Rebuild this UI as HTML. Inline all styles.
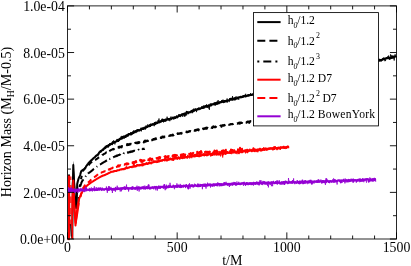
<!DOCTYPE html>
<html lang="en">
<head>
<meta charset="utf-8">
<title>Horizon Mass vs t/M</title>
<style>
html,body{margin:0;padding:0;background:#fff;}
body{width:411px;height:266px;overflow:hidden;}
svg{display:block;will-change:transform;}
svg text{font-family:'Liberation Serif','DejaVu Serif',serif;fill:#000;}
</style>
</head>
<body>
<svg width="411" height="266" viewBox="0 0 411 266">
<rect width="411" height="266" fill="#fff"/>
<defs><clipPath id="plotclip"><rect x="67.0" y="5.9" width="330.0" height="234.7"/></clipPath></defs>
<g clip-path="url(#plotclip)" fill="none" stroke-linejoin="round">
<path d="M69,174.6L69.1,238M72.2,238.5L73.3,165L74.3,188L75.2,202L76.2,208L76.9,196L77.2,184L77.7,181.8L78.2,179.9L78.7,178.3L79.2,177.1L79.7,176.1L80.2,174.8L80.7,172.9L81.2,171.2L81.7,170.7L82.2,170.3L82.7,170L83.2,169.8L83.7,169.6L84.2,169.2L84.7,168.7L85.2,168L85.7,167.3L86.2,166L86.7,165.7L87.2,164.9L87.7,164.2L88.2,163.5L88.7,162.7L89.2,162.4L89.7,161.8L90.2,161.5L90.7,160.6L91.2,160.8L91.7,160.1L92.2,159.5L92.7,159L93.2,158.6L93.7,158L94.2,157.7L94.7,157.4L95.2,156.9L95.7,156L96.2,155.9L96.7,155.2L97.2,155.1L97.7,155.2L98.2,154.3L98.7,153.4L99.2,152.4L99.7,152L100.2,151.3L100.7,151.8L101.2,150.8L101.7,150.7L102.2,150L102.7,149.8L103.2,149.9L103.7,148.7L104.2,148.4L104.7,147.8L105.2,148.1L105.7,147L106.2,146.5L106.7,146.1L107.2,145.7L107.7,146.1L108.2,146.6L108.7,144.9L109.2,145.3L109.7,144.7L110.2,143.9L110.7,143.9L111.2,143.7L111.7,143.3L112.2,144.1L112.7,142.3L113.2,143L113.7,142.7L114.2,142.1L114.7,142.1L115.2,142.2L115.7,141.6L116.2,141.4L116.7,141.3L117.2,139.9L117.7,141.1L118.2,141.1L118.7,140.3L119.2,140.1L119.7,138.8L120.2,139.1L120.7,138.5L121.2,138.4L121.7,138.7L122.2,137.7L122.7,137.8L123.2,136.8L123.7,137.2L124.2,137.1L124.7,136.5L125.2,136.2L125.7,137L126.2,135.5L126.7,135.3L127.2,135.2L127.7,135.7L128.2,134.4L128.7,134.6L129.2,134.2L129.7,134.1L130.2,134.4L130.7,133.4L131.2,134.1L131.7,133.8L132.2,133.1L132.7,133L133.2,132.9L133.7,132.9L134.2,131.7L134.7,132.3L135.2,131.5L135.7,131.1L136.2,131.3L136.7,130.9L137.2,130.4L137.7,129.9L138.2,130L138.7,130.8L139.2,130.8L139.7,130L140.2,130L140.7,129.2L141.2,129.2L141.7,129.1L142.2,128.4L142.7,128.2L143.2,129L143.7,128.1L144.2,127.6L144.7,128L145.2,127.5L145.7,127.9L146.2,127.2L146.7,126.9L147.2,126.9L147.7,126.6L148.2,126.2L148.7,126.1L149.2,126.3L149.7,126.1L150.2,126.1L150.7,124.7L151.2,125L151.7,124.8L152.2,124.9L152.7,124.4L153.2,124.2L153.7,124.5L154.2,124L154.7,123.1L155.2,124.1L155.7,123.7L156.2,122.9L156.7,123.3L157.2,122.4L157.7,123L158.2,122.3L158.7,121.9L159.2,121.8L159.7,121.5L160.2,121.7L160.7,121.6L161.2,121.3L161.7,120.9L162.2,119.5L162.7,120.9L163.2,119.9L163.7,120.7L164.2,120.9L164.7,120.4L165.2,120L165.7,119.9L166.2,119.8L166.7,119.5L167.2,119.3L167.7,119.1L168.2,119.8L168.7,119.1L169.2,119.4L169.7,118.8L170.2,118.8L170.7,118.5L171.2,118.6L171.7,118.6L172.2,118.2L172.7,117.7L173.2,117.5L173.7,118.4L174.2,117.4L174.7,117.3L175.2,117.8L175.7,117.5L176.2,117.1L176.7,116.6L177.2,117.5L177.7,116.5L178.2,116.4L178.7,116L179.2,115.3L179.7,115.2L180.2,115.7L180.7,115.5L181.2,115.1L181.7,114.5L182.2,114.2L182.7,114.5L183.2,113.9L183.7,114.6L184.2,114.5L184.7,115.8L185.2,114.1L185.7,113.3L186.2,113L186.7,111.8L187.2,112.7L187.7,112.7L188.2,113L188.7,112.7L189.2,112.5L189.7,112.2L190.2,112.2L190.7,112.3L191.2,111.1L191.7,111.2L192.2,110.6L192.7,111.6L193.2,111.3L193.7,110.9L194.2,110L194.7,110.3L195.2,110L195.7,110L196.2,109.7L196.7,109.8L197.2,109.3L197.7,109.6L198.2,109.2L198.7,108.8L199.2,108.7L199.7,108.4L200.2,108.8L200.7,108.2L201.2,108.2L201.7,107.8L202.2,107.2L202.7,108L203.2,107.1L203.7,107.6L204.2,107.3L204.7,106.3L205.2,106.5L205.7,106.2L206.2,106.2L206.7,105.9L207.2,106.5L207.7,106L208.2,106.1L208.7,105.6L209.2,105.7L209.7,105.2L210.2,105.3L210.7,105.4L211.2,105L211.7,104.7L212.2,104.3L212.7,104.6L213.2,104.2L213.7,104.2L214.2,103.8L214.7,104.2L215.2,104.8L215.7,103.6L216.2,103.7L216.7,103.5L217.2,102.2L217.7,103.2L218.2,102.7L218.7,103.4L219.2,102.6L219.7,102.2L220.2,102.3L220.7,102.3L221.2,101.9L221.7,102L222.2,101.3L222.7,101.6L223.2,101.9L223.7,102.2L224.2,101.6L224.7,101.3L225.2,101.5L225.7,101.3L226.2,101.5L226.7,101.1L227.2,100.8L227.7,100.5L228.2,100.4L228.7,100.3L229.2,100.1L229.7,99.6L230.2,98.9L230.7,99.4L231.2,98.7L231.7,99.4L232.2,99.3L232.7,98.5L233.2,99.3L233.7,99.3L234.2,98.9L234.7,99.4L235.2,99.3L235.7,98L236.2,98.8L236.7,98.4L237.2,98.3L237.7,98.4L238.2,97.6L238.7,97.5L239.2,97.3L239.7,97.2L240.2,97.4L240.7,96.7L241.2,96.8L241.7,97.3L242.2,96.9L242.7,97L243.2,96L243.7,96.3L244.2,96.2L244.7,96.4L245.2,96L245.7,96.5L246.2,96L246.7,95.9L247.2,95.7L247.7,95.9L248.2,95.3L248.7,95.8L249.2,95.4L249.7,95.2L250.2,95L250.7,95.1L251.2,95.1L251.7,95L252.2,94.6L252.7,94.7L253.2,94.2L253.7,94.6L254.2,93.9L254.7,93L255.2,94.2L255.7,93.6L256.2,92.9L256.7,93.2L257.2,92.8L257.7,93.8L258.2,93.1L258.7,92.1L259.2,92.8L259.7,92.3L260.2,93.1L260.7,91.8L261.2,91.2L261.7,91.9L262.2,91.6L262.7,91.5L263.2,90.7L263.7,91.5L264.2,91.9L264.7,90.3L265.2,91.4L265.7,90.6L266.2,91.6L266.7,90.7L267.2,90.3L267.7,90.7L268.2,90.3L268.7,89.7L269.2,90.1L269.7,89.5L270.2,88.9L270.7,90.2L271.2,89.1L271.7,88.9L272.2,90.7L272.7,88.2L273.2,88.2L273.7,88.4L274.2,88.2L274.7,88.3L275.2,88.6L275.7,87.8L276.2,88.1L276.7,88L277.2,87.2L277.7,87.5L278.2,87.2L278.7,87.6L279.2,87.2L279.7,86.9L280.2,86.2L280.7,86.7L281.2,86.2L281.7,86.6L282.2,86.1L282.7,85.7L283.2,86.3L283.7,86L284.2,85.4L284.7,86.1L285.2,85.2L285.7,85.1L286.2,85.1L286.7,84.6L287.2,84.6L287.7,84.6L288.2,85.1L288.7,84.9L289.2,84.1L289.7,84.7L290.2,83.9L290.7,83.9L291.2,84L291.7,83.6L292.2,84.3L292.7,83.3L293.2,82.6L293.7,83.5L294.2,82.6L294.7,82.5L295.2,80.8L295.7,82.8L296.2,82.6L296.7,82.4L297.2,82.4L297.7,82.5L298.2,81.7L298.7,81.9L299.2,81.1L299.7,81.1L300.2,81.6L300.7,81.2L301.2,80.3L301.7,80.9L302.2,79.9L302.7,80.1L303.2,80.5L303.7,80L304.2,79.4L304.7,79.5L305.2,80.5L305.7,79L306.2,79.6L306.7,79.6L307.2,79.5L307.7,78.6L308.2,78.8L308.7,78.9L309.2,79L309.7,78.3L310.2,77.9L310.7,78.7L311.2,78.6L311.7,78.1L312.2,77.6L312.7,77.9L313.2,77.6L313.7,77.8L314.2,76.8L314.7,77.2L315.2,77L315.7,76.4L316.2,76.8L316.7,76.6L317.2,76.3L317.7,76.5L318.2,75.6L318.7,76.1L319.2,76.1L319.7,75.9L320.2,76.1L320.7,75L321.2,74.8L321.7,75.4L322.2,75.3L322.7,75.8L323.2,75.1L323.7,74.4L324.2,74.9L324.7,74.1L325.2,73.7L325.7,75.2L326.2,74.2L326.7,74.2L327.2,74L327.7,74.4L328.2,73.6L328.7,73.8L329.2,72.8L329.7,72.5L330.2,73.5L330.7,73.4L331.2,72.9L331.7,72.6L332.2,72.5L332.7,72L333.2,72.8L333.7,72.3L334.2,72.1L334.7,71.9L335.2,72L335.7,71.7L336.2,71.6L336.7,70.8L337.2,71.3L337.7,71.8L338.2,70.6L338.7,70.6L339.2,70.9L339.7,70.8L340.2,70.5L340.7,69.5L341.2,70.2L341.7,69.4L342.2,69.4L342.7,69.9L343.2,69.4L343.7,69.7L344.2,70.5L344.7,69.4L345.2,69.3L345.7,68.5L346.2,68.5L346.7,68.2L347.2,68.3L347.7,67.9L348.2,67.9L348.7,68L349.2,67.5L349.7,67.2L350.2,67.1L350.7,67.7L351.2,68.6L351.7,67.7L352.2,67.6L352.7,66.9L353.2,67.2L353.7,66.2L354.2,67.6L354.7,67L355.2,66.3L355.7,64.9L356.2,66.3L356.7,65.3L357.2,65.6L357.7,66.1L358.2,65.7L358.7,65.3L359.2,65.8L359.7,64.8L360.2,65.2L360.7,64.8L361.2,64.5L361.7,64.9L362.2,63.5L362.7,65.3L363.2,64.1L363.7,65L364.2,63.7L364.7,64.2L365.2,63.4L365.7,63.2L366.2,63.7L366.7,63.7L367.2,62.8L367.7,63.7L368.2,62.8L368.7,63L369.2,62.9L369.7,63L370.2,61.9L370.7,63.1L371.2,62.6L371.7,62.1L372.2,61.7L372.7,61.3L373.2,61.3L373.7,61.9L374.2,61.5L374.7,61L375.2,61.1L375.7,61.8L376.2,61L376.7,60.7L377.2,61.4L377.7,60.9L378.2,60.6L378.7,60.2L379.2,59.7L379.7,59.8L380.2,59.9L380.7,59.9L381.2,60L381.7,60L382.2,59.7L382.7,59.2L383.2,59L383.7,58.4L384.2,58.9L384.7,58.6L385.2,58.6L385.7,58.6L386.2,58.1L386.7,58.1L387.2,58.3L387.7,58.3L388.2,57.9L388.7,58.2L389.2,57.8L389.7,58.9L390.2,57.7L390.7,58.3L391.2,57.1L391.7,57.8L392.2,57.7L392.7,57.6L393.2,56.6L393.7,57.6L394.2,56.7L394.7,56.5L395.2,56.4L395.7,56.6L396.2,56.2" stroke="#000" stroke-width="2"/>
<path d="M84,169.3L84.3,169L84.6,168.7L84.9,168.3L85.2,167.9L85.5,167.4L85.8,166.9L86.1,166.6L86.4,165.9L86.7,165.5L87,165.2L87.3,164.8L87.6,164.4L87.9,163.9L88.2,163.7L88.5,163.4L88.8,162.7L89.1,162.5L89.4,161.8L89.7,161.4L90,161.2L90.3,161.3L90.6,160.3L90.9,160.8L91.2,160.5L91.5,160.1L91.8,159.1L92.1,159.5L92.4,159.4L92.7,159.2L93,158.4L93.3,158.5L93.6,158L93.9,157.8L94.2,157.5L94.5,157.3L94.8,157.3L95.1,157.5L95.4,156.5L95.7,156.4L96,156.2L96.3,155.9L96.6,155L96.9,155.4L97.2,155.8L97.5,153.8L97.8,154.9L98.1,154.2L98.4,153.4L98.7,154.8L99,153.7L99.3,152.2L99.6,152.7L99.9,152.7L100.2,152L100.5,152.2L100.8,151.4L101.1,151.6L101.4,151.9L101.7,150.1L102,150.5L102.3,149.8L102.6,150L102.9,148.7L103.2,148.9L103.5,149L103.8,149.6L104.1,149.6L104.4,147.2L104.7,147.5L105,148.5L105.3,145.9L105.6,147L105.9,146.5L106.2,148.2L106.5,147.4L106.8,146.2L107.1,146L107.4,145.9L107.7,147.5L108,145.3L108.3,145.2L108.6,145.7L108.9,145L109.2,144.7L109.5,143.6L109.8,143.4L110.1,143.9L110.4,145.5L110.7,144.8L111,143.9L111.3,144.5L111.6,143.2L111.9,144.6L112.2,143.3L112.5,143.8L112.8,141.6L113.1,143.3L113.4,140.9L113.7,140.3L114,142.1L114.3,141.3L114.6,142.3L114.9,144.4L115.2,140.9L115.5,141L115.8,141.7L116.1,141.9L116.4,141L116.7,140.8L117,140L117.3,141.3L117.6,139.4L117.9,140.3L118.2,140.2L118.5,138.9L118.8,140.2L119.1,138.8L119.4,140.6L119.7,139.6L120,139.3L120.3,138.4L120.6,138.8L120.9,136.6L121.2,137.3L121.5,138.8L121.8,135.9L122.1,139L122.4,136L122.7,138.6L123,136.7L123.3,138.4L123.6,137.5L123.9,135.5L124.2,138.4L124.5,138.5L124.8,136.7L125.1,136.3L125.4,136.2L125.7,135.2L126,137.3L126.3,135.4L126.6,135.8L126.9,134.8L127.2,134.8L127.5,136.2L127.8,136.6L128.1,134.9L128.4,136L128.7,133.2L129,133.8L129.3,134.1L129.6,133.7L129.9,134.2L130.2,133.6L130.5,133.5L130.8,132.2L131.1,132.7L131.4,135.2L131.7,132.5L132,132L132.3,133.3L132.6,134.4L132.9,131.1L133.2,132.3L133.5,131.7L133.8,130.3L134.1,132.9L134.4,132L134.7,131.9L135,130.9L135.3,132.1L135.6,130.9L135.9,133.1L136.2,130L136.5,129.7L136.8,132.4L137.1,130.3L137.4,131.7L137.7,130.5L138,130L138.3,129.3L138.6,130.9L138.9,129.8L139.2,129.8L139.5,129.9L139.8,129.6L140.1,130.4L140.4,129.9L140.7,128.8L141,127.7L141.3,131.4L141.6,130.1L141.9,128.8L142.2,129.4L142.5,129.5L142.8,129.5L143.1,129.5L143.4,127.8L143.7,129.9L144,128.8L144.3,128.9L144.6,128.4L144.9,127.6L145.2,129.7L145.5,129.2L145.8,126.1L146.1,125.4L146.4,128.1L146.7,125.9L147,126.9L147.3,127.7L147.6,124.9L147.9,124.3L148.2,126.7L148.5,126.4L148.8,125.9L149.1,126.1L149.4,125L149.7,124.2L150,125.5L150.3,124.5L150.6,123.7L150.9,125.9L151.2,125.1L151.5,125.5L151.8,123.9L152.1,124.1L152.4,123.6L152.7,123.6L153,124.7L153.3,123.5L153.6,124.6L153.9,124.4L154.2,126.2L154.5,122.3L154.8,124.7L155.1,123.5L155.4,123.4L155.7,121.7L156,122.7L156.3,123.9L156.6,122.9L156.9,122.9L157.2,122.1L157.5,123.9L157.8,122.5L158.1,120L158.4,121.5L158.7,120L159,118.5L159.3,121.4L159.6,123.3L159.9,121.8L160.2,120.4L160.5,120.5L160.8,122.7L161.1,121.5L161.4,121.3L161.7,121.1L162,121.1L162.3,121.9L162.6,121.5L162.9,121L163.2,119.6L163.5,122.4L163.8,119.8L164.1,121.6L164.4,119L164.7,120.1L165,120.2L165.3,118.6L165.6,121.9L165.9,121.5L166.2,119.3L166.5,120.6L166.8,120.1L167.1,116.7L167.4,119.8L167.7,119.4L168,119.4L168.3,118.1L168.6,119.3L168.9,118.9L169.2,120.3L169.5,119.3L169.8,121.2L170.1,120.4L170.4,118.1L170.7,118.2L171,116.5L171.3,120.1L171.6,119.4L171.9,119.2L172.2,118.9L172.5,118.2L172.8,118.2L173.1,117.6L173.4,117.6L173.7,117.8L174,119.3L174.3,118.1L174.6,117.4L174.9,116.7L175.2,116.5L175.5,118.9L175.8,117.6L176.1,117L176.4,116.4L176.7,115.5L177,116.6L177.3,117.5L177.6,116L177.9,116.1L178.2,116L178.5,116.2L178.8,114.3L179.1,115.6L179.4,114.9L179.7,116.7L180,114.7L180.3,116.1L180.6,117.1L180.9,114.9L181.2,114.5L181.5,114.6L181.8,114.9L182.1,113.8L182.4,115.2L182.7,116.8L183,114.2L183.3,114.2L183.6,113.2L183.9,114.5L184.2,112.7L184.5,112.8L184.8,115.3L185.1,112.8L185.4,114.8L185.7,115.2L186,113.7L186.3,113.9L186.6,115.4L186.9,112.9L187.2,112.3L187.5,111.4L187.8,112.8L188.1,114.3L188.4,113.6L188.7,111.4L189,111.4L189.3,111.7L189.6,112.4L189.9,111.8L190.2,112.1L190.5,112.1L190.8,111.3L191.1,111.5L191.4,111.7L191.7,111.3L192,111.8L192.3,113.2L192.6,111.7L192.9,111L193.2,109L193.5,111.1L193.8,108.5L194.1,108.9L194.4,111.3L194.7,111.1L195,110L195.3,108.2L195.6,109.6L195.9,109.1L196.2,110.5L196.5,112.1L196.8,109.8L197.1,108.6L197.4,108.1L197.7,109.2L198,109L198.3,107.8L198.6,109.1L198.9,107.6L199.2,110L199.5,109.8L199.8,109.8L200.1,108L200.4,108.9L200.7,108.1L201,107.8L201.3,107.7L201.6,106.6L201.9,106.3L202.2,108.7L202.5,107.5L202.8,107.9L203.1,108.6L203.4,105.5L203.7,106.5L204,107.4L204.3,108.2L204.6,106.6L204.9,108.1L205.2,107.1L205.5,105.4L205.8,105.6L206.1,107.5L206.4,105.5L206.7,104.3L207,107.8L207.3,106.9L207.6,107.6L207.9,105.6L208.2,105.6L208.5,104.6L208.8,108.5L209.1,105.5L209.4,109.8L209.7,104.8L210,105.6L210.3,103.4L210.6,104.8L210.9,106.2L211.2,103.6L211.5,106.1L211.8,105.2L212.1,103.6L212.4,104.1L212.7,104.1L213,104.4L213.3,103.8L213.6,103.4L213.9,103.9L214.2,102.1L214.5,102.6L214.8,103.9L215.1,104.8L215.4,102.1L215.7,103.7L216,102.9L216.3,102.4L216.6,104.4L216.9,102.8L217.2,104.9L217.5,102.3L217.8,103.5L218.1,100.1L218.4,102.1L218.7,103.5L219,102.6L219.3,103.3L219.6,102.5L219.9,101.3L220.2,102.3L220.5,102.4L220.8,103.3L221.1,101.2L221.4,101.9L221.7,100.1L222,102.6L222.3,100.6L222.6,99.8L222.9,101.4L223.2,102.8L223.5,99.8L223.8,100.2L224.1,102.8L224.4,100L224.7,101.6L225,100.2L225.3,100.2L225.6,101.6L225.9,100L226.2,101.3L226.5,99.6L226.8,99.3L227.1,98.5L227.4,102.5L227.7,99.6L228,100.6L228.3,100.2L228.6,100.4L228.9,100.2L229.2,102.1L229.5,98.8L229.8,98.2L230.1,98.7L230.4,98.3L230.7,100.5L231,100.5L231.3,98.5L231.6,97.9L231.9,99L232.2,100.8L232.5,96.1L232.8,99.7L233.1,98.6L233.4,100.2L233.7,97.8L234,98.6L234.3,97.1L234.6,97.7L234.9,100.2L235.2,99.5L235.5,98.1L235.8,97.5L236.1,96.3L236.4,97.9L236.7,98.2L237,98.1L237.3,98L237.6,96.8L237.9,97.9L238.2,97.8L238.5,99.2L238.8,99.8L239.1,97.5L239.4,96.8L239.7,97.5L240,96.8L240.3,96.6L240.6,97.3L240.9,98L241.2,97.9L241.5,97L241.8,97.2L242.1,96.8L242.4,96.1L242.7,95.8L243,97.7L243.3,96.1L243.6,96.9L243.9,96.5L244.2,95L244.5,96.5L244.8,94.8L245.1,95.6L245.4,95.9L245.7,93.8L246,96.1L246.3,96.1L246.6,95.7L246.9,95.3L247.2,95.9L247.5,94.6L247.8,95.3L248.1,94.9L248.4,95.5L248.7,94L249,95.5L249.3,95.4L249.6,95L249.9,94.6L250.2,95.6L250.5,93.1L250.8,95.3L251.1,95L251.4,95L251.7,95L252,93.8L252.3,94.1L252.6,95.1L252.9,94.8L253.2,94.4L253.5,92.5L253.8,94.6L254.1,95.2L254.4,95L254.7,93.7L255,92L255.3,94.7L255.6,93.4L255.9,90.7L256.2,93.8L256.5,91.7L256.8,91.9L257.1,92.5L257.4,94.5L257.7,92.6L258,93.2L258.3,94.8L258.6,94.5L258.9,92.6L259.2,92.3L259.5,91.1L259.8,91.7L260.1,92.8L260.4,92.7L260.7,92.3L261,93.2L261.3,91.2L261.6,91.9L261.9,92.7L262.2,92.4L262.5,92.9L262.8,92.1L263.1,91.2L263.4,91.9L263.7,90.3L264,89.5L264.3,91.8L264.6,90L264.9,91.4L265.2,89.1L265.5,91.9L265.8,90.1L266.1,89.8L266.4,88.1L266.7,90.2L267,89.8L267.3,90.8L267.6,89.6L267.9,90.2L268.2,91L268.5,87L268.8,89.8L269.1,90.5L269.4,90.5L269.7,91.6L270,90.9L270.3,91.3L270.6,89.8L270.9,90.2L271.2,88.7L271.5,89.2L271.8,90.1L272.1,91.2L272.4,89.9L272.7,88.8L273,89L273.3,90.2L273.6,88.6L273.9,90L274.2,87.4L274.5,88.2L274.8,88.1L275.1,89.1L275.4,89.3L275.7,86.4L276,86.9L276.3,88.2L276.6,87L276.9,86L277.2,88.7L277.5,88.1L277.8,88L278.1,86.8L278.4,88.4L278.7,86.9L279,88.3L279.3,86L279.6,86L279.9,87.1L280.2,86L280.5,87.4L280.8,86.9L281.1,85.5L281.4,86.5L281.7,85.9L282,87.2L282.3,85.5L282.6,85.6L282.9,87.3L283.2,88.4L283.5,88L283.8,85.8L284.1,85.9L284.4,87.2L284.7,85.3L285,84.3L285.3,85.4L285.6,85.7L285.9,84.2L286.2,83.2L286.5,83.4L286.8,84.7L287.1,84L287.4,84.6L287.7,84.9L288,85.2L288.3,84.1L288.6,84.9L288.9,83.3L289.2,83.8L289.5,83L289.8,85.3L290.1,83.9L290.4,83.1L290.7,83.4L291,83.5L291.3,84.4L291.6,81.8L291.9,82L292.2,82.9L292.5,86.6L292.8,84.2L293.1,83.9L293.4,83.8L293.7,85.2L294,82.9L294.3,82.4L294.6,85.2L294.9,83.2L295.2,83.3L295.5,81.9L295.8,84.5L296.1,84.2L296.4,82.8L296.7,82.9L297,79.8L297.3,82.6L297.6,81.6L297.9,82.3L298.2,82.4L298.5,81.2L298.8,79.7L299.1,81.9L299.4,80.5L299.7,80.9L300,80.5L300.3,80.7L300.6,78.5L300.9,82.3L301.2,81.1L301.5,81.3L301.8,82.9L302.1,80.6L302.4,78.6L302.7,79.5L303,79.1L303.3,80L303.6,80.3L303.9,77.9L304.2,80.4L304.5,78.3L304.8,80.2L305.1,79.7L305.4,79.4L305.7,79.6L306,79L306.3,78.8L306.6,77.5L306.9,79.3L307.2,81.3L307.5,81.3L307.8,80.5L308.1,79.8L308.4,78.2L308.7,80.4L309,78.7L309.3,78.6L309.6,78.2L309.9,78.6L310.2,77.9L310.5,78.2L310.8,77L311.1,77.7L311.4,80.6L311.7,77.9L312,77.6L312.3,78.4L312.6,78.5L312.9,76.4L313.2,77.4L313.5,78.5L313.8,77.7L314.1,77.5L314.4,79L314.7,76.4L315,77.2L315.3,76.4L315.6,78.6L315.9,72.8L316.2,76L316.5,76.1L316.8,77.3L317.1,77.2L317.4,78L317.7,74.6L318,77.1L318.3,75.9L318.6,75.4L318.9,76.6L319.2,74.9L319.5,73.6L319.8,75.4L320.1,74L320.4,74.9L320.7,75.9L321,75.8L321.3,77.1L321.6,75.1L321.9,73.5L322.2,74.3L322.5,74L322.8,73.6L323.1,75.4L323.4,75L323.7,72.5L324,75.4L324.3,74.4L324.6,74.9L324.9,74.5L325.2,75L325.5,74.3L325.8,75.5L326.1,74.7L326.4,74.4L326.7,74.3L327,72.2L327.3,73.6L327.6,73.4L327.9,73.8L328.2,72L328.5,75.2L328.8,73.4L329.1,71.4L329.4,71.3L329.7,72.8L330,72.9L330.3,72.1L330.6,72.9L330.9,72.1L331.2,73.3L331.5,71.8L331.8,72.5L332.1,73.5L332.4,75.2L332.7,71.2L333,71.7L333.3,71.2L333.6,72.9L333.9,70.7L334.2,71.3L334.5,71.8L334.8,70.6L335.1,70.6L335.4,71L335.7,69.2L336,69.8L336.3,70.9L336.6,71.4L336.9,71L337.2,69.1L337.5,70.5L337.8,71.8L338.1,71.5L338.4,70.7L338.7,69.7L339,71.3L339.3,69.9L339.6,69.2L339.9,69.5L340.2,71.9L340.5,70.5L340.8,72.8L341.1,69.5L341.4,71L341.7,69.2L342,69.6L342.3,72.5L342.6,70.5L342.9,69.9L343.2,69.4L343.5,69.8L343.8,70.7L344.1,68.7L344.4,67.3L344.7,68.8L345,69.1L345.3,69.1L345.6,70.3L345.9,69.2L346.2,69.6L346.5,67.4L346.8,69.5L347.1,70.8L347.4,69.3L347.7,68.6L348,68.4L348.3,70.1L348.6,67.1L348.9,67.9L349.2,68.5L349.5,68.7L349.8,67.3L350.1,68.1L350.4,67.3L350.7,67.7L351,67.3L351.3,66.1L351.6,67.3L351.9,68.2L352.2,66.1L352.5,66.8L352.8,67.7L353.1,65.8L353.4,67.1L353.7,65.6L354,68L354.3,69.2L354.6,68.8L354.9,66.2L355.2,67.2L355.5,63.1L355.8,66.4L356.1,67.9L356.4,64.6L356.7,67.2L357,65.9L357.3,67.4L357.6,66L357.9,65L358.2,65.9L358.5,66.4L358.8,65.5L359.1,65.9L359.4,64.8L359.7,62.9L360,66.2L360.3,65.9L360.6,65.2L360.9,65.1L361.2,66L361.5,64.3L361.8,63.9L362.1,64.4L362.4,64.1L362.7,63L363,65.7L363.3,63.6L363.6,63.1L363.9,65.6L364.2,64L364.5,62.6L364.8,63.6L365.1,66.2L365.4,65.1L365.7,63.3L366,64.1L366.3,64.4L366.6,62.8L366.9,63.8L367.2,63.3L367.5,62.7L367.8,62.7L368.1,63.2L368.4,63.1L368.7,62.4L369,62.4L369.3,64L369.6,66L369.9,63.6L370.2,63.9L370.5,63.2L370.8,64.9L371.1,61.5L371.4,63.2L371.7,61.9L372,64.2L372.3,63.9L372.6,59.8L372.9,60.9L373.2,62L373.5,62.6L373.8,62.5L374.1,61.5L374.4,62L374.7,62.2L375,61.4L375.3,62.5L375.6,58.8L375.9,61.9L376.2,60L376.5,62.1L376.8,60.7L377.1,59.9L377.4,60.9L377.7,59.7L378,59.6L378.3,58.8L378.6,60.5L378.9,61L379.2,61.5L379.5,60.1L379.8,61.4L380.1,60.6L380.4,59.9L380.7,60.6L381,61.8L381.3,61L381.6,59.5L381.9,59.5L382.2,59.7L382.5,58.5L382.8,60.6L383.1,58.9L383.4,59.8L383.7,58.3L384,59.6L384.3,59.5L384.6,58.6L384.9,61.2L385.2,59.3L385.5,60.8L385.8,59.8L386.1,57.9L386.4,58.2L386.7,59L387,58.5L387.3,58.4L387.6,58L387.9,56.2L388.2,57.9L388.5,55.6L388.8,58.4L389.1,57.1L389.4,57.1L389.7,57.5L390,58L390.3,56.1L390.6,54.4L390.9,56.3L391.2,55.2L391.5,56.3L391.8,59L392.1,56L392.4,57.8L392.7,55.5L393,57.3L393.3,56.6L393.6,56.8L393.9,57.4L394.2,60.5L394.5,56.8L394.8,56.7L395.1,54.3L395.4,57L395.7,56.1L396,57.2L396.3,56.2" stroke="#000" stroke-width="0.8"/>
<path d="M73.35,160.4L71.3,190L75.6,190Z" fill="#000" stroke="none"/>
<path d="M76.9,204L77.9,208L78.8,197M79.5,187L79.8,185.6L80,184.3M81,179.2L81.2,178.1L81.5,176.9L81.8,175.8M82.8,171.5L83,170.9L83.2,170.5L83.5,170.1L83.8,169.7L84,169.4L84.2,169.1L84.5,168.8L84.8,168.5L85,168.3L85.2,168.1L85.5,167.9L85.8,167.7M88.5,165.3L88.8,165L89,164.6L89.2,164.3L89.5,164L89.8,163.7L90,163.4L90.2,163.1L90.5,162.9L90.8,162.7L91,162.5L91.2,162.4L91.5,162.2L91.8,162L92,161.8M95,160L95.2,159.9L95.5,159.7L95.8,159.6L96,159.4L96.2,159.3L96.5,159.1L96.8,158.9L97,158.8L97.2,158.6L97.5,158.5L97.8,158.3L98,158L98.2,157.9L98.5,157.7L98.8,157.5L99,157.4L99.2,157.3M102.2,155.2L102.5,154.7L102.8,154.7L103,154.9L103.2,154.5L103.5,154.4L103.8,154.1L104,153.8L104.2,153.8L104.5,153.7L104.8,153.4L105,153.4L105.2,153.4L105.5,153.3L105.8,152.7L106,152.6L106.2,152.4L106.5,152.7M109.8,149.7L110,150.7L110.2,150.5L110.5,150.3L110.8,150.1L111,150.1L111.2,150L111.5,150L111.8,149.6L112,149.6L112.2,149.6L112.5,149.3L112.8,149.1L113,149.2L113.2,149.5L113.5,149.1L113.8,149.3L114,148.9L114.2,148.7L114.5,148.4M117.8,147.4L118,147.4L118.2,147.2L118.5,147.6L118.8,146.7L119,147.1L119.2,147.8L119.5,146.9L119.8,146.6L120,146.9L120.2,147.2L120.5,146.7L120.8,146.9L121,146.6L121.2,146.4L121.5,147.4L121.8,146.2L122,146.1L122.2,146.1L122.5,146.3L122.8,146.2M126.2,144.8L126.5,144.9L126.8,144.7L127,145.2L127.2,144.1L127.5,144.7L127.8,144.2L128,144.5L128.2,144.9L128.5,144.3L128.8,144.5L129,144.2L129.2,144.9L129.5,144.6L129.8,144.6L130,143.8L130.2,143.8L130.5,144.4L130.8,143.9L131,143.8L131.2,144M134.8,143.4L135,143L135.2,143.1L135.5,142.9L135.8,142.5L136,142.8L136.2,143.1L136.5,143.3L136.8,142.6L137,142.5L137.2,143.2L137.5,142.4L137.8,143.3L138,142.6L138.2,142.3L138.5,142.9L138.8,143L139,142.1L139.2,142.9L139.5,142.3L139.8,142.8M143.2,141.8L143.5,141.7L143.8,142.5L144,141.9L144.2,141.4L144.5,141.7L144.8,141.1L145,140.5L145.2,140.8L145.5,141.7L145.8,141.4L146,140.8L146.2,141.1L146.5,141.3L146.8,141.1L147,141L147.2,140.6L147.5,140.6L147.8,140.8L148,141L148.2,140.4M151.8,140.2L152,140.4L152.2,139.7L152.5,139.6L152.8,139.8L153,139.5L153.2,139.4L153.5,139L153.8,139.6L154,138.9L154.2,139.3L154.5,138.7L154.8,139.4L155,138.7L155.2,139.2L155.5,138.4L155.8,138.7L156,139.1L156.2,138.5L156.5,138.7L156.8,138.5M160.2,137.2L160.5,137.2L160.8,137.9L161,137.5L161.2,137.7L161.5,137.9L161.8,137.3L162,137.1L162.2,136.5L162.5,137.4L162.8,137L163,137.3L163.2,137.2L163.5,136.6L163.8,137.5L164,137.3L164.2,137.1L164.5,136.5L164.8,136.7L165,136.6L165.2,136.5M168.8,135.7L169,136L169.2,135.6L169.5,135.5L169.8,135.4L170,135.8L170.2,135.4L170.5,135L170.8,135.6L171,135.2L171.2,135.4L171.5,135.4L171.8,135.6L172,135.5L172.2,134.9L172.5,135L172.8,134.6L173,135.5L173.2,135L173.5,135.3L173.8,134.7M177.2,133.9L177.5,133.4L177.8,134L178,134L178.2,133.8L178.5,133.4L178.8,133.5L179,133.3L179.2,133.7L179.5,133.8L179.8,133.8L180,133.2L180.2,133.4L180.5,133.5L180.8,133.1L181,133.2L181.2,133.8L181.5,133.2L181.8,133.3L182,132.9L182.2,133M185.8,131.6L186,131.8L186.2,131.6L186.5,131.6L186.8,132.3L187,131.9L187.2,131.9L187.5,132.2L187.8,132.1L188,131.6L188.2,132L188.5,131.7L188.8,131.5L189,131.6L189.2,131L189.5,131.2L189.8,131.3L190,131.5L190.2,131.1L190.5,131.1L190.8,131.4M194.2,130.4L194.5,130.7L194.8,130.2L195,130.1L195.2,130L195.5,130.1L195.8,130.7L196,129.7L196.2,130.5L196.5,129.7L196.8,129.9L197,130.1L197.2,130L197.5,129.9L197.8,129.2L198,129.8L198.2,129.3L198.5,130.4L198.8,129.5L199,129.6L199.2,129.1M202.8,129.1L203,128.5L203.2,129L203.5,128.5L203.8,129.1L204,129L204.2,128.4L204.5,128.4L204.8,128.2L205,128.5L205.2,128.7L205.5,127.9L205.8,128.6L206,127.9L206.2,128L206.5,127.6L206.8,128.8L207,128.1L207.2,128.1L207.5,127.8L207.8,128.3M211.2,127.4L211.5,127.8L211.8,127.5L212,127.2L212.2,128.1L212.5,127.4L212.8,127.4L213,126.8L213.2,126.4L213.5,126.7L213.8,127.2L214,126.6L214.2,126.7L214.5,126.9L214.8,127.2L215,126.8L215.2,126.7L215.5,126.5L215.8,127.1L216,126.9L216.2,126.5L216.5,126.1M220,126.3L220.2,125.9L220.5,125.6L220.8,125.5L221,126L221.2,126.1L221.5,126.8L221.8,125.7L222,126L222.2,125.3L222.5,125.6L222.8,125.3L223,125.5L223.2,125.7L223.5,125.7L223.8,125.1L224,125.7L224.2,125.2L224.5,124.9L224.8,125.2L225,124.7M228.5,124.2L228.8,124.5L229,124.7L229.2,124.6L229.5,124.8L229.8,124.8L230,124.6L230.2,124.4L230.5,124L230.8,124L231,124.1L231.2,124.3L231.5,124.3L231.8,124.1L232,124.1L232.2,124.3L232.5,124.1L232.8,124.1L233,124.1L233.2,123.8L233.5,123.6M237,123.5L237.2,123.4L237.5,123.6L237.8,123.2L238,123.1L238.2,123.2L238.5,123.4L238.8,123.2L239,123.3L239.2,122.4L239.5,123.4L239.8,123.7L240,123.3L240.2,122.8L240.5,122.6L240.8,122.9L241,122.5L241.2,123L241.5,122.5L241.8,123L242,123L242.2,122M245.8,122.2L246,122.2L246.2,122.2L246.5,122.7L246.8,122.2L247,122L247.2,122.3L247.5,121.4L247.8,121.4L248,121.6L248.2,121.5L248.5,121.9L248.8,121.5L249,122.1L249.2,122.9L249.5,121.8L249.8,121.4L250,121.6L250.2,121.7L250.5,121.1L250.8,121.5M254.2,120.4L254.5,121.3L254.8,120.7L255,121.1L255.2,120.8L255.5,120.9L255.8,121.2L256,120.7L256.2,121L256.5,120.1L256.8,120.7L257,120.4L257.2,120.4L257.5,120.4L257.8,120.4L258,120.8" stroke="#000" stroke-width="2"/>
<path d="M80.2,186.5L80.5,185.7L80.7,184.8L81,184.1L81.2,183.3L81.5,182.7L81.7,182.1L82,181.6L82.2,181.1L82.5,180.7L82.7,180.4L83,180L83.2,179.7L83.5,179.4M85.5,176.7L85.7,176.3L86,175.9M88,173.6L88.2,173.4L88.5,173.2L88.7,173L89,172.8L89.2,172.6L89.5,172.4L89.7,172.3L90,172.1L90.2,171.9L90.5,171.8L90.7,171.6L91,171.4L91.2,171.2L91.5,171L91.7,170.8L92,170.6L92.2,170.4L92.5,170.2L92.7,169.9L93,169.7L93.2,169.5L93.5,169.3L93.7,169L94,168.8M96.5,166.8L96.7,166.6L97,166.5L97.2,166.3M100,164.6L100.2,164.5L100.5,164.3L100.7,164.2L101,164L101.2,163.9L101.5,163.6L101.7,163.6L102,163.2L102.2,163.1L102.5,163.1L102.7,162.9L103,162.7L103.2,162.6L103.5,162.4L103.7,162.3L104,162L104.2,162L104.5,161.8L104.7,161.7L105,161.6L105.2,161.3L105.5,161.4L105.7,161.1L106,160.8L106.2,160.6L106.5,160.8L106.7,160.5M109.5,159L109.7,159.1L110,158.8L110.2,158.8M113.2,157.2L113.5,157.2L113.7,156.9L114,156.9L114.2,156.9L114.5,156.6L114.7,156.5L115,156.4L115.2,156.5L115.5,156.2L115.7,156.3L116,156.3L116.2,156.1L116.5,155.6L116.7,155.8L117,155.9L117.2,155.6L117.5,155.7L117.7,155.5L118,155.4L118.2,155.2L118.5,155L118.7,155L119,155L119.2,155L119.5,154.9L119.7,154.6L120,154.6L120.2,154.6L120.5,154.1M123.5,153.9L123.7,153.4L124,153.3L124.2,153.3L124.5,153.2M127.5,152.6L127.7,152.3L128,152.8L128.2,152.4L128.4,152.2L128.7,152.2L128.9,152.3L129.2,152.3L129.4,152.1L129.7,152.2L129.9,152.2L130.2,151.6L130.4,151.7L130.7,151.5L130.9,151.7L131.2,151.9L131.4,151.7L131.7,151.3L131.9,151.4L132.2,151.6L132.4,151.2L132.7,151.3L132.9,151.3L133.2,150.8L133.4,151.3L133.7,151.1L133.9,151.1L134.2,150.7L134.4,150.7L134.7,150.7L134.9,150.8M138.2,150.1L138.4,149.8L138.7,149.7L138.9,149.8L139.2,150M142.2,148.9L142.4,149.1L142.7,148.7L142.9,149L143.2,148.9L143.4,148.8L143.7,149L143.9,148.7L144.2,148.9L144.4,148.6" stroke="#000" stroke-width="2"/>
<path d="M72.7,190L73.3,180.5L74.3,205L75.5,225.5L76.4,216L77.6,206L78.9,199.6L79.4,198.2L79.9,196.9L80.4,195.7L80.9,194.6L81.4,193.6L81.9,192.6L82.4,191.7L82.9,190.8L83.4,190L83.9,189.3L84.4,188.5L84.9,187.9L85.4,187.3L85.9,186.7L86.4,186.2L86.9,185.8L87.4,185.3L87.9,184.9L88.4,184.5L88.9,184.2L89.4,183.8L89.9,183.4L90.4,183L90.9,182.7L91.4,182.4L91.9,182L92.4,181.7L92.9,181.4L93.4,181.1L93.9,180.7L94.4,180.4L94.9,180.1L95.4,179.8L95.9,179.5L96.4,179.2L96.9,178.8L97.4,178.6L97.9,178.3L98.4,177.9L98.9,177.7L99.4,177.4L99.9,177.1L100.4,176.8L100.9,176.6L101.4,176.3L101.9,176.2L102.4,175.9L102.9,175.6L103.4,175.5L103.9,175.4L104.4,175.1L104.9,174.9L105.4,174.8L105.9,174.4L106.4,174.3L106.9,174.1L107.4,173.8L107.9,173.5L108.4,173.3L108.9,173L109.4,172.8L109.9,172.6L110.4,172.4L110.9,172L111.4,171.8L111.9,171.8L112.4,171.8L112.9,171.7L113.4,171.2L113.9,171.4L114.4,171.2L114.9,171L115.4,171L115.9,170.9L116.4,171L116.9,170.4L117.4,170.5L117.9,170.3L118.4,170.2L118.9,170.3L119.4,170.1L119.9,169.6L120.4,169.6L120.9,169.6L121.4,169.3L121.9,169.5L122.4,169.2L122.9,169.1L123.4,169L123.9,169.2L124.4,168.7L124.9,168.4L125.4,168.8L125.9,168.1L126.4,167.1L126.9,167.6L127.4,168.1L127.9,167.8L128.4,167.7L128.9,167.5L129.4,167.3L129.9,167L130.4,166.9L130.9,167.1L131.4,166.9L131.9,167.2L132.4,166.4L132.9,166.4L133.4,166.2L133.9,166.8L134.4,165.9L134.9,166.4L135.4,166.5L135.9,165.9L136.4,166.1L136.9,165.1L137.4,165.5L137.9,165L138.4,165.5L138.9,165.3L139.4,165L139.9,165.5L140.4,165.1L140.9,165L141.4,164.6L141.9,164.2L142.4,164.5L142.9,165.3L143.4,164.1L143.9,164.4L144.4,164L144.9,164.4L145.4,164.1L145.9,163.8L146.4,163L146.9,163.4L147.4,164L147.9,163.3L148.4,163.6L148.9,163L149.4,162.3L149.9,163.2L150.4,163L150.9,162.5L151.4,162.5L151.9,162.7L152.4,162.2L152.9,162.5L153.4,162.2L153.9,161.1L154.4,162L154.9,161.7L155.4,161.4L155.9,161.9L156.4,161.4L156.9,161.8L157.4,161.9L157.9,161.4L158.4,160.4L158.9,160.7L159.4,161.4L159.9,160.8L160.4,160.4L160.9,160.6L161.4,160.8L161.9,160.6L162.4,160.7L162.9,159.9L163.4,160.1L163.9,160L164.4,160L164.9,158.9L165.4,159.8L165.9,159.1L166.4,160.4L166.9,160.4L167.4,160.4L167.9,159.9L168.4,159.2L168.9,159.8L169.4,159.1L169.9,159.5L170.4,158.6L170.9,158.7L171.4,159.1L171.9,159.7L172.4,158.8L172.9,159.8L173.4,160L173.9,157.9L174.4,158.5L174.9,157.9L175.4,158.3L175.9,158L176.4,158.1L176.9,158.6L177.4,158.5L177.9,158.1L178.4,157.9L178.9,157.9L179.4,157.8L179.9,158L180.4,157.6L180.9,157.8L181.4,155.8L181.9,157.8L182.4,158.2L182.9,157.4L183.4,156.6L183.9,157.9L184.4,157L184.9,155.6L185.4,156.9L185.9,157.3L186.4,157.1L186.9,157.5L187.4,157.1L187.9,156.8L188.4,156.6L188.9,156.1L189.4,156.6L189.9,156.8L190.4,155.9L190.9,156.1L191.4,156.6L191.9,155.3L192.4,155.3L192.9,156.1L193.4,156.3L193.9,155.8L194.4,154.9L194.9,156L195.4,155.3L195.9,154.9L196.4,155.8L196.9,155.9L197.4,156L197.9,155.4L198.4,156L198.9,156.2L199.4,155.7L199.9,156.1L200.4,155.1L200.9,155.8L201.4,155.4L201.9,154.8L202.4,155.2L202.9,154.9L203.4,154.8L203.9,155.1L204.4,155.5L204.9,154.8L205.4,155L205.9,154.1L206.4,154.9L206.9,155.3L207.4,155.1L207.9,154.9L208.4,154.3L208.9,154.1L209.4,154.4L209.9,153.8L210.4,153.8L210.9,154.8L211.4,153.8L211.9,155.1L212.4,153.5L212.9,154.3L213.4,153.5L213.9,154.1L214.4,153.4L214.9,153.9L215.4,153.8L215.9,153.6L216.4,154L216.9,154.5L217.4,153.4L217.9,154L218.4,153.6L218.9,153.5L219.4,154.5L219.9,152.3L220.4,153L220.9,152.4L221.4,153.1L221.9,153.1L222.4,155L222.9,153.3L223.4,154L223.9,153.7L224.4,152.8L224.9,153.2L225.4,153.7L225.9,152.9L226.4,152.9L226.9,153L227.4,152L227.9,152.3L228.4,152.8L228.9,152.9L229.4,152.1L229.9,152.4L230.4,153L230.9,152.4L231.4,152.7L231.9,152.4L232.4,152.4L232.9,151.6L233.4,151.7L233.9,152.4L234.4,151.4L234.9,152.3L235.4,151.8L235.9,151.7L236.4,152.4L236.9,151.7L237.4,151.5L237.9,151.6L238.4,151.9L238.9,153.2L239.4,150.7L239.9,151.7L240.4,151.6L240.9,152.1L241.4,151.4L241.9,150.4L242.4,152.2L242.9,151L243.4,151.4L243.9,150.7L244.4,150.8L244.9,151.1L245.4,151.7L245.9,151.6L246.4,150.8L246.9,151.3L247.4,152.3L247.9,151L248.4,151L248.9,151.1L249.4,150.5L249.9,150.6L250.4,150.8L250.9,150.6L251.4,150.1L251.9,151.3L252.4,150.2L252.9,150.8L253.4,148.3L253.9,150.9L254.4,149.1L254.9,151.2L255.4,150L255.9,149.5L256.4,150.1L256.9,151.1L257.4,150.2L257.9,149.3L258.4,149.6L258.9,150.5L259.4,149.1L259.9,149.6L260.4,149.5L260.9,150.7L261.4,149.4L261.9,150.2L262.4,149.2L262.9,149L263.4,149.9L263.9,149.7L264.4,148.5L264.9,149.6L265.4,149.5L265.9,148.9L266.4,149.2L266.9,149.2L267.4,148.8L267.9,148.7L268.4,148.6L268.9,148.8L269.4,148.2L269.9,148.8L270.4,148L270.9,148.7L271.4,148.6L271.9,148.1L272.4,149L272.9,149.5L273.4,149.1L273.9,147.7L274.4,149L274.9,148.4L275.4,148.2L275.9,147.9L276.4,148.1L276.9,148.8L277.4,148.3L277.9,147.8L278.4,147.6L278.9,147.7L279.4,148.1L279.9,148.7L280.4,147.2L280.9,147.7L281.4,147.4L281.9,147.2L282.4,147.7L282.9,147.7L283.4,146.7L283.9,146.8L284.4,147.9L284.9,147.4L285.4,147.5L285.9,146.9L286.4,146.9L286.9,147.3L287.4,146.7L287.9,146.4L288.4,147L288.9,147.3" stroke="#f00" stroke-width="2"/>
<path d="M100,177.1L100.3,176.9L100.6,176.8L100.9,176.6L101.2,176.5L101.5,176.3L101.8,176.2L102.1,176.1L102.4,175.9L102.7,175.8L103,175.7L103.3,175.6L103.6,175.5L103.9,175.3L104.2,175.2L104.5,175.1L104.8,175L105.1,174.9L105.4,174.7L105.7,174.6L106,174.5L106.3,174.3L106.6,174.3L106.9,174.1L107.2,174L107.5,173.7L107.8,173.7L108.1,173.4L108.4,173.3L108.7,173.2L109,172.9L109.3,172.8L109.6,172.6L109.9,172.5L110.2,172.4L110.5,172.2L110.8,172.1L111.1,172.1L111.4,172L111.7,171.7L112,171.7L112.3,171.7L112.6,171.5L112.9,171.4L113.2,171.7L113.5,171.4L113.8,171.3L114.1,171.2L114.4,171.5L114.7,171.1L115,170.9L115.3,170.6L115.6,171L115.9,170.7L116.2,170.9L116.5,170.7L116.8,170.5L117.1,170.5L117.4,170.2L117.7,170.3L118,169.9L118.3,170.7L118.6,170.4L118.9,170.3L119.2,170.1L119.5,170.1L119.8,170.1L120.1,170L120.4,169.9L120.7,169.4L121,169.6L121.3,169.3L121.6,169.1L121.9,169L122.2,169.3L122.5,169.4L122.8,168.7L123.1,169.5L123.4,169.1L123.7,168.7L124,168.6L124.3,168.7L124.6,168.9L124.9,168.4L125.2,168.1L125.5,168.6L125.8,167.7L126.1,168.2L126.4,168.5L126.7,168.1L127,168.2L127.3,168L127.6,168L127.9,167.8L128.2,167.4L128.5,167.5L128.8,167.5L129.1,167.8L129.4,167.9L129.7,167.4L130,166.9L130.3,166.6L130.6,166.1L130.9,167.8L131.2,167.1L131.5,166.8L131.8,166.5L132.1,167.1L132.4,166.8L132.7,166.6L133,166.6L133.3,167.2L133.6,166.4L133.9,167.1L134.2,166.8L134.5,166.3L134.8,166.6L135.1,166.1L135.4,165.7L135.7,165.9L136,165.5L136.3,166.1L136.6,165.8L136.9,166L137.2,166.1L137.5,164.2L137.8,165.7L138.1,164.7L138.4,165.5L138.7,165L139,165.4L139.3,165.9L139.6,164.4L139.9,165.2L140.2,165L140.5,164.1L140.8,165.3L141.1,164.9L141.4,164.6L141.7,164.4L142,166.4L142.3,164.4L142.6,163.6L142.9,164L143.2,164.2L143.5,164.2L143.8,164.3L144.1,163.7L144.4,164.5L144.7,163.8L145,163.3L145.3,163.5L145.6,163.7L145.9,164.4L146.2,164.1L146.5,163.5L146.8,163.7L147.1,163.7L147.4,164.8L147.7,163.1L148,163.7L148.3,163.8L148.6,162.7L148.9,163.3L149.2,163.3L149.5,162.8L149.8,163.4L150.1,163.6L150.4,163.6L150.7,162.7L151,162.9L151.3,164.3L151.6,161.9L151.9,162.7L152.2,163.1L152.5,162.6L152.8,162.8L153.1,162.4L153.4,162.8L153.7,163.1L154,162L154.3,162.2L154.6,162L154.9,161.7L155.2,161.9L155.5,161L155.8,162.3L156.1,162.9L156.4,162.9L156.7,162.5L157,160.8L157.3,162.6L157.6,160.8L157.9,161.3L158.2,162.6L158.5,160.4L158.8,161.8L159.1,160.6L159.4,160.9L159.7,160.3L160,161.2L160.3,160.5L160.6,161.6L160.9,161.7L161.2,159.5L161.5,160.2L161.8,160.3L162.1,159.5L162.4,159.5L162.7,160.4L163,160.1L163.3,158.9L163.6,159.8L163.9,160.6L164.2,159.1L164.5,159.3L164.8,161.4L165.1,161.1L165.4,158.5L165.7,158.7L166,160.1L166.3,158.7L166.6,159.5L166.9,159.2L167.2,160.1L167.5,157.3L167.8,157.5L168.1,158.3L168.4,160.3L168.7,159.2L169,157.7L169.3,159.7L169.6,159.9L169.9,158.9L170.2,158.8L170.5,159.5L170.8,160.2L171.1,157.9L171.4,159.4L171.7,158.8L172,158.5L172.3,157.9L172.6,157.4L172.9,158.4L173.2,158.6L173.5,159.5L173.8,159L174.1,159.4L174.4,156.9L174.7,159L175,157.8L175.3,157.5L175.6,157.5L175.9,159.5L176.2,158L176.5,157.5L176.8,157L177.1,158.1L177.4,157.6L177.7,159.7L178,156.5L178.3,156.1L178.6,157.6L178.9,158.5L179.2,157.9L179.5,158.5L179.8,159.8L180.1,157.3L180.4,157.1L180.7,155.8L181,157.8L181.3,158.4L181.6,157.2L181.9,158.6L182.2,157.4L182.5,158.9L182.8,157.7L183.1,156.2L183.4,156.6L183.7,155.7L184,155.5L184.3,157.4L184.6,158L184.9,158.6L185.2,157L185.5,156.8L185.8,155.9L186.1,157.9L186.4,157.3L186.7,156.3L187,157.5L187.3,158.6L187.6,154.9L187.9,157.5L188.2,156.8L188.5,156.3L188.8,156.2L189.1,158.3L189.4,158.1L189.7,158.4L190,155.4L190.3,155.8L190.6,157.3L190.9,154.7L191.2,155.6L191.5,154.5L191.8,158.2L192.1,157.3L192.4,155.9L192.7,156.4L193,155.8L193.3,155.8L193.6,156.7L193.9,155.4L194.2,157.3L194.5,155.5L194.8,155.1L195.1,157.3L195.4,155.8L195.7,156.5L196,155.5L196.3,153.6L196.6,156.4L196.9,154.4L197.2,156.8L197.5,154.2L197.8,153.8L198.1,156L198.4,156L198.7,155.7L199,154.4L199.3,156.4L199.6,154L199.9,155L200.2,154.7L200.5,155L200.8,156.2L201.1,154.7L201.4,155.9L201.7,156L202,153.5L202.3,154.1L202.6,154.8L202.9,154.6L203.2,155.4L203.5,153.2L203.8,155.8L204.1,155.8L204.4,154.8L204.7,151.2L205,155L205.3,154.4L205.6,155.5L205.9,154.8L206.2,155.6L206.5,154.4L206.8,156.2L207.1,152.4L207.4,153.7L207.7,155.2L208,153.1L208.3,155.3L208.6,153.4L208.9,154.6L209.2,153.6L209.5,154L209.8,154.6L210.1,152.9L210.4,154L210.7,156.5L211,154.3L211.3,153.3L211.6,155.2L211.9,155L212.2,155.4L212.5,156L212.8,154L213.1,155.2L213.4,155.2L213.7,154L214,154.3L214.3,151L214.6,153.4L214.9,155.7L215.2,152.1L215.5,153.3L215.8,154.1L216.1,154.4L216.4,155.4L216.7,152L217,153.7L217.3,154.5L217.6,152.3L217.9,153.6L218.2,155.5L218.5,154.9L218.8,154.1L219.1,150.9L219.4,153.3L219.7,153.8L220,153.1L220.3,153.3L220.6,156.4L220.9,153.1L221.2,152.3L221.5,153.5L221.8,152.9L222.1,152.9L222.4,153.1L222.7,157.5L223,153.3L223.3,151.9L223.6,151.4L223.9,153.5L224.2,152.5L224.5,154.1L224.8,153.7L225.1,151.9L225.4,153.2L225.7,154.8L226,154.4L226.3,152.8L226.6,153.7L226.9,152.1L227.2,151.3L227.5,153.3L227.8,152.9L228.1,153.2L228.4,152.6L228.7,152.9L229,152.1L229.3,153L229.6,153.4L229.9,152.5L230.2,153.3L230.5,150.7L230.8,151.7L231.1,153.9L231.4,154.2L231.7,151.3L232,152.3L232.3,151.4L232.6,152.7L232.9,153.6L233.2,150.8L233.5,152.8L233.8,151.8L234.1,152.7L234.4,151.1L234.7,152.7L235,150.6L235.3,153.6L235.6,152.2L235.9,150.9L236.2,153.4L236.5,153.2L236.8,151.4L237.1,154.2L237.4,151L237.7,152.3L238,153.1L238.3,149.6L238.6,152.9L238.9,151.8L239.2,151.8L239.5,150.7L239.8,152.1L240.1,150.6L240.4,150.8L240.7,151.3L241,150.4L241.3,153.2L241.6,150.3L241.9,150.8L242.2,151.3L242.5,151.5L242.8,152.3L243.1,152.3L243.4,151.2L243.7,151L244,151.4L244.3,152.2L244.6,152L244.9,150.8L245.2,149.2L245.5,153.4L245.8,152.2L246.1,151.4L246.4,151.5L246.7,150.6L247,150.1L247.3,150.7L247.6,150.8L247.9,150.3L248.2,149.5L248.5,150.6L248.8,151.4L249.1,150.3L249.4,150.8L249.7,148.7L250,150.5L250.3,150.5L250.6,149.4L250.9,148.9L251.2,151L251.5,149.7L251.8,151L252.1,150.1L252.4,151.1L252.7,150.1L253,148.9L253.3,150.3L253.6,150L253.9,151L254.2,149.8L254.5,149.8L254.8,151.1L255.1,151.3L255.4,150.9L255.7,149.2L256,150.5L256.3,150.8L256.6,150.9L256.9,150.4L257.2,150L257.5,150.1L257.8,152.3L258.1,149.5L258.4,149.6L258.7,149.5L259,149.8L259.3,150L259.6,148.6L259.9,147.8L260.2,150L260.5,148.1L260.8,149.9L261.1,149.8L261.4,150.8L261.7,151.2L262,149.9L262.3,149L262.6,148.3L262.9,149.7L263.2,149.5L263.5,147.3L263.8,149.5L264.1,149.3L264.4,150L264.7,150.9L265,149.4L265.3,148.5L265.6,148.8L265.9,147.4L266.2,149.3L266.5,150.7L266.8,149.3L267.1,149.4L267.4,148.1L267.7,150.5L268,148L268.3,149.8L268.6,149L268.9,147.9L269.2,149.9L269.5,148.9L269.8,149L270.1,149.2L270.4,148.7L270.7,148.4L271,149.2L271.3,148.3L271.6,148.3L271.9,147.9L272.2,147.1L272.5,147.9L272.8,148L273.1,148.5L273.4,149.6L273.7,146.7L274,148.5L274.3,146.2L274.6,147.3L274.9,147.8L275.2,146L275.5,146.9L275.8,148.4L276.1,148.3L276.4,148L276.7,147.3L277,150.2L277.3,147.9L277.6,147.2L277.9,149.7L278.2,148.6L278.5,147.6L278.8,149.1L279.1,148L279.4,148.5L279.7,148L280,146.8L280.3,150L280.6,147.9L280.9,146.7L281.2,146.9L281.5,148.6L281.8,147.2L282.1,147.6L282.4,148.2L282.7,147.6L283,146.5L283.3,148.1L283.6,148.3L283.9,147.3L284.2,149L284.5,147.7L284.8,148.1L285.1,148.8L285.4,146.9L285.7,148.9L286,148.9L286.3,147.9L286.6,148.9L286.9,147.9L287.2,146.1L287.5,148.1L287.8,147.3L288.1,147.3L288.4,147L288.7,148.2L289,147.4" stroke="#f00" stroke-width="0.8"/>
<path d="M72.9,186L73.9,203L75.7,223L77.3,213L78.8,203M80.5,197L80.8,195.8L81,194.7L81.2,193.6L81.5,192.6M82.8,188.9L83,188.3L83.2,187.9L83.5,187.4L83.8,187L84,186.6L84.2,186.3L84.5,186L84.8,185.6L85,185.3L85.2,185L85.5,184.8M88,182.6L88.2,182.4L88.5,182.3L88.8,182.1L89,181.8L89.2,181.6L89.5,181.4L89.8,181.2L90,180.9L90.2,180.6L90.5,180.3L90.8,180L91,179.7L91.2,179.4M94,177.3L94.2,177.2L94.5,177L94.8,176.8L95,176.7L95.2,176.5L95.5,176.3L95.8,176.1L96,176L96.2,175.8L96.5,175.5L96.8,175.3L97,175.1L97.2,174.9L97.5,174.7L97.8,174.5L98,174.3M100.8,172.8L101,172.8L101.2,172.6L101.5,172.5L101.8,172.4L102,172.3L102.2,172.2L102.5,172.1L102.8,172.1L103,171.9L103.2,171.8L103.5,171.8L103.8,171.6L104,171.5L104.2,171.4L104.5,171.4L104.8,171.3L105,171.2L105.2,171.1L105.5,171.1M108.2,169.8L108.5,169.6L108.8,169.7L109,169.3L109.2,169.1L109.5,169.2L109.8,169L110,169.1L110.2,169.4L110.5,168.8L110.8,168.7L111,168.6L111.2,168.5L111.5,168.3L111.8,168.4L112,168.2L112.2,168.3L112.5,168.1L112.8,167.6L113,168M116,167L116.2,167L116.5,166.8L116.8,166.8L117,166.4L117.2,166.4L117.5,166.6L117.8,166.3L118,165.6L118.2,166.2L118.5,165.4L118.8,166.6L119,166.1L119.2,166L119.5,165.5L119.8,165.3L120,165.5L120.2,165.5L120.5,165.2L120.8,165.4M124,164.6L124.2,164.6L124.5,164.8L124.8,164.3L125,164.1L125.2,163.9L125.5,164.2L125.8,163.9L126,164.4L126.2,163.9L126.5,164.6L126.8,164.4L127,163.3L127.2,164.3L127.5,163.6L127.8,164.3L128,163.9L128.2,163.6L128.5,163.9L128.8,163.2M132,162.7L132.2,162.8L132.5,162.4L132.8,163.3L133,162.4L133.2,163L133.5,162.1L133.8,164.7L134,162.2L134.2,162.8L134.5,162.2L134.8,161.8L135,162.4L135.2,161.6L135.5,161.7L135.8,162.4L136,161.1L136.2,162.3L136.5,161.7L136.8,161.4M140,161.4L140.2,159.8L140.5,161L140.8,161L141,160.9L141.2,161.9L141.5,160L141.8,161.1L142,161.1L142.2,160.9L142.5,161.9L142.8,161.4L143,161.1L143.2,160.3L143.5,160.9L143.8,160.5L144,160.6L144.2,160.7L144.5,160.3L144.8,161.1M148,159.6L148.2,160L148.5,159.2L148.8,159.9L149,160.1L149.2,159.2L149.5,160.2L149.8,159.5L150,158.2L150.2,159.7L150.5,159.4L150.8,159.3L151,158.7L151.2,159.1L151.5,159.1L151.8,160.2L152,159.8L152.2,158.7L152.5,159.6L152.8,159.3L153,159M156.2,158.5L156.5,158L156.8,158.7L157,158.4L157.2,158.6L157.5,158.8L157.8,157.8L158,158.1L158.2,157.8L158.5,157.6L158.8,158.9L159,158.4L159.2,157.1L159.5,158L159.8,157.5L160,158.3L160.2,157.3L160.5,157.5L160.8,157.6L161,157.7M164.2,157.3L164.5,156.7L164.8,156.9L165,157.1L165.2,156.1L165.5,157L165.8,156.4L166,156.6L166.2,156.7L166.5,157.1L166.8,157L167,157.4L167.2,156.7L167.5,156.3L167.8,156.3L168,156.8L168.2,157.2L168.5,156.6L168.8,156.1L169,156.5M172.2,155.4L172.5,156.3L172.8,155.5L173,155.3L173.2,155.8L173.5,155.2L173.8,156.1L174,155.1L174.2,156.3L174.5,155.7L174.8,155.2L175,154.8L175.2,156.3L175.5,156.2L175.8,154.9L176,156.3L176.2,155.6L176.5,155.3L176.8,155.4L177,155.3L177.2,156M180.5,155.4L180.8,154.9L181,156L181.2,154.5L181.5,155.2L181.8,154.9L182,154.5L182.2,155.4L182.5,154.8L182.8,154.3L183,154.6L183.2,155.1L183.5,154.1L183.8,155.3L184,154.9L184.2,154.4L184.5,155.2L184.8,155.3L185,154.7L185.2,154.5L185.5,155.3M188.5,154L188.8,154.1L189,153.8L189.2,153.9L189.5,154.3L189.8,153.9L190,154.5L190.2,153.5L190.5,153.9L190.8,153.1L191,153.7L191.2,153.4L191.5,154.3L191.8,154L192,153.9L192.2,154.5L192.5,154.3L192.8,153.9L193,153.2L193.2,152.8L193.5,153.4M196.8,152.6L197,152.9L197.2,151.8L197.5,153.7L197.8,153L198,152.6L198.2,152.5L198.5,153.2L198.8,153.6L199,152.3L199.2,152.6L199.5,152L199.8,153.1L200,152.9L200.2,153.8L200.5,152.7L200.8,152.5L201,151L201.2,153.1L201.5,151.9L201.8,153.6M205,152.3L205.2,152.2L205.5,152L205.8,151.6L206,151.7L206.2,151.8L206.5,152.6L206.8,152L207,151.8L207.2,152.5L207.5,152.5L207.8,151.8L208,151.9L208.2,152.5L208.5,152.3L208.8,151.7L209,152.2L209.2,152.1L209.5,152.6L209.8,151.6L210,152.4M213,151.8L213.2,152.5L213.5,152L213.8,152.5L214,153.1L214.2,151.8L214.5,150.5L214.8,151.5L215,151.2L215.2,151.7L215.5,151.7L215.8,151.1L216,151.1L216.2,151.5L216.5,151.5L216.8,150.4L217,152.1L217.2,151.6L217.5,151.6L217.8,151.7L218,151M221.2,150.6L221.5,151.4L221.8,150.9L222,151.2L222.2,152.5L222.5,151.9L222.8,150.6L223,151.2L223.2,150.6L223.5,150.4L223.8,151.3L224,152.4L224.2,152.6L224.5,151.2L224.8,151L225,151.2L225.2,151.6L225.5,150.4L225.8,149.7L226,152L226.2,151.2M229.5,151.6L229.8,151.3L230,151.3L230.2,151.3L230.5,151.1L230.8,150.6L231,149.5L231.2,151.3L231.5,151.2L231.8,151L232,149.9L232.2,150L232.5,151.2L232.8,151.1L233,150.9L233.2,150.5L233.5,150.8L233.8,150.4L234,150.5L234.2,150.2L234.5,150.7M237.8,151.1L238,149.3L238.2,150L238.5,150.3L238.8,150.2L239,151L239.2,150L239.5,150.9L239.8,150.6L240,147.7L240.2,149.8L240.5,150L240.8,150.3L241,150.7L241.2,150.1L241.5,150.7L241.8,149.4L242,148.7L242.2,150L242.5,150.4M245.8,149.5L246,150.5L246.2,150.4L246.5,150.2L246.8,150.5L247,149.7L247.2,149.9L247.5,149.7L247.8,150.3L248,149.6" stroke="#f00" stroke-width="2"/>
<path d="M69.0,175.6L69.1,222L68.7,240.2" stroke="#f00" stroke-width="2.4"/>
<path d="M72.35,239L72.15,222L72.15,200L72.6,188" stroke="#f00" stroke-width="1.7"/>
<path d="M70.85,176.5V230" stroke="#f00" stroke-width="1.2" stroke-dasharray="6.5 5" stroke-dashoffset="3"/>
<path d="M70.3,224L71.2,236.5" stroke="#000" stroke-width="0.8"/>
<path d="M68.3,188.8L68.8,191.8L69.3,191.5L69.8,189.9L70.3,189.1L70.8,190L71.3,188.3L71.8,189.7L72.3,191L72.8,191.2L73.3,190.4L73.8,190.5L74.3,190.9L74.8,191.9L75.3,190L75.8,190.9L76.3,190.5L76.8,189.5L77.3,190L77.8,189.7L78.3,190.7L78.8,190L79.3,190.3L79.8,190.8L80.3,189.4L80.8,190.1L81.3,190.2L81.8,189.9L82.3,190.5L82.8,190.3L83.3,190.4L83.8,190L84.3,189.8L84.8,189.8L85.3,189.7L85.8,187.6L86.3,190L86.8,190.2L87.3,189.8L87.8,189.6L88.3,189.8L88.8,189.9L89.3,189.9L89.8,190.5L90.3,189.4L90.8,189.9L91.3,190L91.8,189.7L92.3,189.6L92.8,189.2L93.3,189.4L93.8,189.9L94.3,190.2L94.8,189.3L95.3,189.8L95.8,189.8L96.3,189.9L96.8,189.6L97.3,189.7L97.8,189.9L98.3,188.4L98.8,189.5L99.3,188.7L99.8,188.9L100.3,189.1L100.8,188.8L101.3,189.6L101.8,189.8L102.3,189.2L102.8,189.3L103.3,189.2L103.8,189.2L104.3,189.3L104.8,189.4L105.3,189.1L105.8,188.9L106.3,189L106.8,189.5L107.3,189L107.8,189.7L108.3,189L108.8,189.7L109.3,188.6L109.8,188.8L110.3,189.3L110.8,189.2L111.3,189L111.8,189.8L112.3,189L112.8,189.1L113.3,188.7L113.8,189.6L114.3,189.3L114.8,189.1L115.3,188.2L115.8,189.3L116.3,188.7L116.8,189L117.3,189.2L117.8,188.5L118.3,188.9L118.8,189.1L119.3,188.8L119.8,188.6L120.3,188.3L120.8,188.4L121.3,188.2L121.8,189.1L122.3,188.7L122.8,188.1L123.3,188.6L123.8,188.1L124.3,187.3L124.8,189L125.3,189L125.8,187.9L126.3,188.2L126.8,188.6L127.3,188.3L127.8,188.1L128.3,189.2L128.8,188.3L129.3,188.2L129.8,188.5L130.3,188.3L130.8,188L131.3,188.3L131.8,187.6L132.3,188.9L132.8,187.6L133.3,188.2L133.8,188.4L134.3,188.4L134.8,188.3L135.3,188.7L135.8,187.7L136.3,188.1L136.8,188.2L137.3,187.9L137.8,187.8L138.3,188.6L138.8,187.8L139.3,187.8L139.8,187.9L140.3,187.9L140.8,188L141.3,187.9L141.8,188.1L142.3,188L142.8,188.1L143.3,188.4L143.8,187.5L144.3,188.5L144.8,187.6L145.3,188.1L145.8,187.8L146.3,187.6L146.8,187L147.3,188.4L147.8,187.4L148.3,187.4L148.8,188.1L149.3,187.7L149.8,188.4L150.3,188.3L150.8,187.9L151.3,187.7L151.8,187.8L152.3,187.5L152.8,187.6L153.3,188L153.8,187.3L154.3,187.5L154.8,186.8L155.3,187.8L155.8,187.9L156.3,186.8L156.8,187.4L157.3,187.9L157.8,187.5L158.3,186.9L158.8,186.9L159.3,187.6L159.8,187.9L160.3,186.8L160.8,187.2L161.3,186.8L161.8,187L162.3,187.2L162.8,187.1L163.3,186.8L163.8,187.9L164.3,185.1L164.8,186.9L165.3,187.4L165.8,187L166.3,186.9L166.8,187.3L167.3,186.5L167.8,187.2L168.3,187.3L168.8,187.1L169.3,186.7L169.8,186.8L170.3,186.1L170.8,186.7L171.3,186.8L171.8,187L172.3,186.7L172.8,186.5L173.3,186.3L173.8,186.6L174.3,186.6L174.8,187L175.3,186.5L175.8,186.3L176.3,186.5L176.8,186.3L177.3,186.4L177.8,185.6L178.3,185.8L178.8,185.9L179.3,186.6L179.8,186.3L180.3,186.4L180.8,186.8L181.3,185.9L181.8,186.7L182.3,186.4L182.8,185.9L183.3,186.8L183.8,185.6L184.3,185.7L184.8,186L185.3,186.3L185.8,186L186.3,185.2L186.8,185.9L187.3,186L187.8,187L188.3,188.5L188.8,186L189.3,185.5L189.8,186L190.3,185.4L190.8,185.9L191.3,186L191.8,185.7L192.3,185.9L192.8,185.6L193.3,185.5L193.8,186.3L194.3,185.9L194.8,185.6L195.3,185.4L195.8,185.7L196.3,185.9L196.8,185.9L197.3,186.2L197.8,185.7L198.3,185.1L198.8,186.3L199.3,186L199.8,185.8L200.3,186L200.8,184.9L201.3,185.3L201.8,185.2L202.3,185.8L202.8,184.9L203.3,185.2L203.8,185.9L204.3,185.5L204.8,185.1L205.3,186L205.8,184.7L206.3,185.4L206.8,185.1L207.3,185.4L207.8,185L208.3,184.8L208.8,185.2L209.3,184.6L209.8,185.3L210.3,184.9L210.8,185.4L211.3,184.8L211.8,184.7L212.3,185.9L212.8,185.4L213.3,184.1L213.8,184.9L214.3,185.1L214.8,184.3L215.3,184.5L215.8,185L216.3,184.4L216.8,184.5L217.3,185.4L217.8,184.3L218.3,184.3L218.8,183.8L219.3,184.2L219.8,184.1L220.3,185.3L220.8,185.1L221.3,184.1L221.8,185.3L222.3,184.8L222.8,184.4L223.3,184.8L223.8,184.6L224.3,184.1L224.8,183.7L225.3,184L225.8,184.4L226.3,184.2L226.8,184L227.3,184.7L227.8,183.9L228.3,184.6L228.8,184.1L229.3,184.3L229.8,183.8L230.3,184.2L230.8,183.9L231.3,183.5L231.8,184.1L232.3,184.1L232.8,184.4L233.3,184.2L233.8,183.6L234.3,183.8L234.8,183L235.3,183.5L235.8,184.5L236.3,184.5L236.8,184.2L237.3,184L237.8,184.1L238.3,184.1L238.8,183.2L239.3,183.5L239.8,184.3L240.3,184.3L240.8,183.9L241.3,183.6L241.8,183.6L242.3,183.5L242.8,183.3L243.3,182.9L243.8,183.7L244.3,183.5L244.8,183.5L245.3,184.3L245.8,183.8L246.3,183L246.8,183.8L247.3,183L247.8,183.9L248.3,183.6L248.8,183.4L249.3,183.7L249.8,184L250.3,183.3L250.8,183L251.3,184.3L251.8,183.4L252.3,184L252.8,183.1L253.3,183.3L253.8,183.1L254.3,183.6L254.8,183.2L255.3,183L255.8,183.9L256.3,183.4L256.8,182.4L257.3,183.1L257.8,182.9L258.3,182.7L258.8,183L259.3,183L259.8,183.2L260.3,182.8L260.8,182.4L261.3,182.9L261.8,183.5L262.3,182.6L262.8,183.3L263.3,183.3L263.8,182.9L264.3,183.2L264.8,182.7L265.3,182.9L265.8,182.6L266.3,183.2L266.8,183.5L267.3,182.7L267.8,183.4L268.3,182.1L268.8,182.6L269.3,182.5L269.8,183.6L270.3,182.7L270.8,183.2L271.3,182.1L271.8,182.9L272.3,183.1L272.8,182.8L273.3,181.7L273.8,182.9L274.3,183.1L274.8,183.3L275.3,182.9L275.8,182.1L276.3,182.7L276.8,183.1L277.3,182.4L277.8,182.9L278.3,182.5L278.8,182.7L279.3,183L279.8,182.4L280.3,183.8L280.8,182.7L281.3,182.7L281.8,182.3L282.3,182.6L282.8,182.5L283.3,182L283.8,181.9L284.3,184.1L284.8,182.5L285.3,181.5L285.8,181.6L286.3,182.4L286.8,182.4L287.3,182.7L287.8,183.3L288.3,182.7L288.8,182.3L289.3,182.2L289.8,182.3L290.3,182.8L290.8,182.6L291.3,182.7L291.8,182.1L292.3,182.2L292.8,181.8L293.3,182.1L293.8,182.1L294.3,182.1L294.8,182.5L295.3,182.4L295.8,182.5L296.3,182.3L296.8,182.6L297.3,182.2L297.8,182.6L298.3,182.4L298.8,183L299.3,182.1L299.8,181.6L300.3,181.5L300.8,182.9L301.3,182.2L301.8,182.2L302.3,182L302.8,181.8L303.3,183.1L303.8,181.5L304.3,181.9L304.8,181.9L305.3,181.5L305.8,181.4L306.3,181.6L306.8,181.8L307.3,181.7L307.8,182.2L308.3,181.4L308.8,182L309.3,182.4L309.8,182.2L310.3,181.3L310.8,180.6L311.3,182.1L311.8,183.7L312.3,181.5L312.8,182.2L313.3,181.5L313.8,181.7L314.3,181.2L314.8,181.8L315.3,181.4L315.8,181.4L316.3,182L316.8,181.7L317.3,181L317.8,181.8L318.3,181.9L318.8,181.2L319.3,181.3L319.8,181.5L320.3,181.4L320.8,181.5L321.3,181.7L321.8,181.2L322.3,182.2L322.8,181.1L323.3,181.1L323.8,182.1L324.3,182.3L324.8,181.3L325.3,181.2L325.8,180.8L326.3,181.7L326.8,181.3L327.3,180.9L327.8,181.4L328.3,181.7L328.8,181.4L329.3,182L329.8,181.6L330.3,181.3L330.8,181.1L331.3,181.3L331.8,181.5L332.3,181.4L332.8,181.1L333.3,181.1L333.8,181.3L334.3,181.5L334.8,180.9L335.3,180.4L335.8,181.6L336.3,181.6L336.8,180.7L337.3,181L337.8,180.8L338.3,180.2L338.8,180.3L339.3,180.2L339.8,180.9L340.3,180.7L340.8,182.4L341.3,180.7L341.8,180.9L342.3,180.6L342.8,180.5L343.3,180.1L343.8,181L344.3,180.7L344.8,180.4L345.3,180.7L345.8,180.4L346.3,180.3L346.8,180.6L347.3,181L347.8,180.4L348.3,179.9L348.8,180.2L349.3,181.2L349.8,180.1L350.3,180.9L350.8,180.3L351.3,180.7L351.8,180.3L352.3,179.7L352.8,180.1L353.3,181.1L353.8,180.2L354.3,180.5L354.8,180.1L355.3,180.2L355.8,180.3L356.3,180.4L356.8,181L357.3,180.1L357.8,180L358.3,179.8L358.8,179.6L359.3,179.4L359.8,180.3L360.3,179.3L360.8,180.6L361.3,180.3L361.8,180.7L362.3,179.5L362.8,179.9L363.3,179.9L363.8,180.3L364.3,179.6L364.8,179.7L365.3,179.8L365.8,179.7L366.3,179.5L366.8,179.1L367.3,179.1L367.8,179.5L368.3,179.6L368.8,181.7L369.3,180.6L369.8,180.3L370.3,179.8L370.8,180.4L371.3,179.5L371.8,179.4L372.3,180.5L372.8,179.1L373.3,179.3L373.8,179.4L374.3,180.1L374.8,179.2L375.3,179.7L375.8,179.2" stroke="#9400d3" stroke-width="2"/>
<path d="M68.3,190.9L68.6,187.1L68.9,190.6L69.2,189.9L69.5,188.7L69.8,190.4L70.1,190.1L70.4,192.6L70.7,188.9L71,192.5L71.3,191.8L71.6,189.6L71.9,189.3L72.2,191.7L72.5,190.1L72.8,190.4L73.1,188.6L73.4,188.8L73.7,189.8L74,189.1L74.3,188.4L74.6,189.8L74.9,192.2L75.2,192L75.5,190.1L75.8,190.3L76.1,190.7L76.4,191.7L76.7,190.5L77,189.6L77.3,189.6L77.6,191.4L77.9,193L78.2,189.3L78.5,187.7L78.8,191L79.1,189.9L79.4,190.2L79.7,191.4L80,190.1L80.3,188.5L80.6,189.3L80.9,189.1L81.2,188.6L81.5,190.3L81.8,188.5L82.1,188.1L82.4,188.2L82.7,189.5L83,189.4L83.3,190.6L83.6,191.4L83.9,189.7L84.2,188.9L84.5,192.1L84.8,190.3L85.1,190.5L85.4,190.5L85.7,191.5L86,191L86.3,190.6L86.6,190.7L86.9,188.8L87.2,189.1L87.5,189.7L87.8,189.9L88.1,189.8L88.4,190.1L88.7,189.8L89,190.6L89.3,187.9L89.6,190.7L89.9,190.4L90.2,188.7L90.5,190.3L90.8,190.1L91.1,189.7L91.4,187.5L91.7,188.4L92,188.9L92.3,191.5L92.6,188.6L92.9,189.2L93.2,188.3L93.5,189L93.8,190L94.1,187.2L94.4,186.3L94.7,190.3L95,189.6L95.3,188.8L95.6,190.6L95.9,190.6L96.2,187.1L96.5,189.3L96.8,190.7L97.1,188.7L97.4,189.1L97.7,190.6L98,189.1L98.3,188.1L98.6,188.6L98.9,187.9L99.2,190L99.5,190.5L99.8,190.5L100.1,187.5L100.4,189.4L100.7,187.7L101,189L101.3,190.5L101.6,190.6L101.9,190.8L102.2,187.5L102.5,189.4L102.8,189.5L103.1,190L103.4,188.8L103.7,190.5L104,189.6L104.3,190.5L104.6,189.8L104.9,190L105.2,188.4L105.5,188.7L105.8,188L106.1,188.8L106.4,186.5L106.7,190.1L107,187.7L107.3,192.8L107.6,189L107.9,190.6L108.2,190.3L108.5,186.2L108.8,188.8L109.1,190.8L109.4,186.3L109.7,189.9L110,188L110.3,188.5L110.6,188.9L110.9,186.9L111.2,189.2L111.5,188.2L111.8,188.1L112.1,189.8L112.4,193L112.7,189.3L113,189.6L113.3,189.8L113.6,188.1L113.9,189.2L114.2,190.6L114.5,189.1L114.8,189.9L115.1,188.6L115.4,191.7L115.7,186.9L116,189.5L116.3,189.4L116.6,189.1L116.9,189.2L117.2,185.7L117.5,188.5L117.8,188.9L118.1,187.4L118.4,187.5L118.7,189.4L119,189.9L119.3,188.1L119.6,187.9L119.9,187.8L120.2,191.5L120.5,189.2L120.8,188.6L121.1,189.8L121.4,191.3L121.7,190L122,187L122.3,188.5L122.6,188.1L122.9,188.2L123.2,187.2L123.5,188.1L123.8,188.6L124.1,188.9L124.4,188.6L124.7,186.9L125,186.5L125.3,187.9L125.6,189.2L125.9,189L126.2,188.4L126.5,184.6L126.8,187.9L127.1,187.6L127.4,188L127.7,187L128,187.9L128.3,187.6L128.6,191.5L128.9,189.2L129.2,188.1L129.5,188.3L129.8,188.2L130.1,188.5L130.4,187.8L130.7,188.3L131,189.5L131.3,189.2L131.6,188.6L131.9,189.8L132.2,188.5L132.5,187.1L132.8,186.2L133.1,187.4L133.4,188.1L133.7,188.6L134,189.4L134.3,187.5L134.6,187.2L134.9,189L135.2,189.5L135.5,187.6L135.8,188.5L136.1,189.7L136.4,188.4L136.7,188L137,185.7L137.3,190.8L137.6,188.8L137.9,188.2L138.2,187.5L138.5,186.4L138.8,187.9L139.1,191.5L139.4,189.2L139.7,186.6L140,189.6L140.3,188L140.6,189.3L140.9,186.8L141.2,188.3L141.5,189.3L141.8,188L142.1,186.2L142.4,187.5L142.7,188.5L143,186.2L143.3,186.1L143.6,188.1L143.9,186.7L144.2,188.6L144.5,186.4L144.8,185.6L145.1,186.8L145.4,189.5L145.7,186.7L146,187.7L146.3,188L146.6,186.6L146.9,188.9L147.2,186.7L147.5,188.2L147.8,185.7L148.1,186.3L148.4,184.4L148.7,187.4L149,184.7L149.3,188.4L149.6,189.3L149.9,187.3L150.2,187.2L150.5,188.1L150.8,189.3L151.1,186.6L151.4,188.2L151.7,187.2L152,187.1L152.3,188.4L152.6,186.5L152.9,186.2L153.2,188.2L153.5,187.4L153.8,189.4L154.1,187.2L154.4,188L154.7,186.9L155,188.2L155.3,187.8L155.6,189L155.9,190.3L156.2,188.3L156.5,187.1L156.8,186.9L157.1,186.6L157.4,190.5L157.7,187.9L158,187.9L158.3,188.8L158.6,185.6L158.9,186.2L159.2,186.7L159.5,186L159.8,185.7L160.1,186.6L160.4,188.6L160.7,188L161,187.2L161.3,187.1L161.6,186L161.9,187.9L162.2,187.6L162.5,185.8L162.8,187.3L163.1,186.8L163.4,186.4L163.7,185.9L164,186.2L164.3,185.9L164.6,187.5L164.9,187.4L165.2,190.2L165.5,186.7L165.8,186.4L166.1,189.2L166.4,184.7L166.7,188.3L167,186.4L167.3,186.9L167.6,186.2L167.9,186.6L168.2,185.4L168.5,185.2L168.8,186.7L169.1,184.9L169.4,185.9L169.7,188L170,182.8L170.3,184.9L170.6,187L170.9,186.9L171.2,186.8L171.5,187.2L171.8,187.5L172.1,187.6L172.4,185.8L172.7,186.6L173,187.6L173.3,184.7L173.6,186.4L173.9,185.2L174.2,188.2L174.5,189.2L174.8,187.1L175.1,185L175.4,186.4L175.7,186.5L176,186.7L176.3,187.7L176.6,187.5L176.9,183.4L177.2,188L177.5,185.8L177.8,185.8L178.1,187.6L178.4,186.1L178.7,184.8L179,184.8L179.3,186.4L179.6,187.4L179.9,188L180.2,183.9L180.5,185.7L180.8,188.1L181.1,185.7L181.4,187.7L181.7,187.1L182,186.5L182.3,185.9L182.6,186.5L182.9,185.6L183.2,185.4L183.5,185.4L183.8,185.4L184.1,186.5L184.4,186.2L184.7,185.8L185,185.9L185.3,185.8L185.6,188.1L185.9,186L186.2,184L186.5,185.7L186.8,186.8L187.1,185.8L187.4,187.6L187.7,185.7L188,186.1L188.3,186.2L188.6,186.4L188.9,184L189.2,184.7L189.5,183.3L189.8,186.8L190.1,188.6L190.4,187.3L190.7,186L191,187.1L191.3,185.8L191.6,185.7L191.9,184L192.2,184.9L192.5,185.1L192.8,186.8L193.1,187.6L193.4,185.2L193.7,186.1L194,186L194.3,184.8L194.6,183.7L194.9,184.8L195.2,184L195.5,185.3L195.8,185.5L196.1,185.4L196.4,185.4L196.7,186.1L197,184.5L197.3,186.6L197.6,183.6L197.9,185.6L198.2,186L198.5,184.6L198.8,183.7L199.1,186.2L199.4,184.7L199.7,186.3L200,184.5L200.3,185.4L200.6,185.4L200.9,185.3L201.2,185.8L201.5,184.3L201.8,185.6L202.1,186L202.4,189.2L202.7,185.5L203,185.1L203.3,185.2L203.6,184.2L203.9,183.6L204.2,186.5L204.5,184.5L204.8,185.5L205.1,183.5L205.4,185.4L205.7,184.2L206,188.6L206.3,184L206.6,184L206.9,186.2L207.2,186.4L207.5,182.7L207.8,185.4L208.1,186.1L208.4,183.7L208.7,185.8L209,184.4L209.3,183.9L209.6,184.6L209.9,184.5L210.2,183.4L210.5,187.5L210.8,184.3L211.1,184.1L211.4,185.9L211.7,184.9L212,185L212.3,184.6L212.6,185.3L212.9,185L213.2,185.1L213.5,184.6L213.8,184.7L214.1,186.7L214.4,184L214.7,184.2L215,184.4L215.3,185.4L215.6,185.2L215.9,185.8L216.2,183.2L216.5,185L216.8,184.5L217.1,184.4L217.4,184.9L217.7,182.4L218,185L218.3,184.8L218.6,183L218.9,184.5L219.2,186.4L219.5,184.2L219.8,185L220.1,183.5L220.4,183.6L220.7,183.5L221,184.1L221.3,186L221.6,183.7L221.9,183.7L222.2,185.6L222.5,184.3L222.8,183.7L223.1,184.9L223.4,183.4L223.7,182.6L224,185.9L224.3,182.3L224.6,185L224.9,182.1L225.2,184.3L225.5,184.1L225.8,183.8L226.1,181.8L226.4,184.2L226.7,184.3L227,183.3L227.3,184.2L227.6,185.4L227.9,183.4L228.2,184.5L228.5,182.9L228.8,184.6L229.1,184.9L229.4,187L229.7,185.2L230,184.7L230.3,185.7L230.6,183L230.9,185.3L231.2,183.5L231.5,183.4L231.8,185.3L232.1,184.3L232.4,185.6L232.7,182.4L233,184.4L233.3,183.4L233.6,183.7L233.9,181.9L234.2,185.1L234.5,184.2L234.8,182.9L235.1,182.4L235.4,183L235.7,185.5L236,183.8L236.3,183.5L236.6,185.3L236.9,181.5L237.2,184.1L237.5,184.7L237.8,184.2L238.1,184.8L238.4,182.5L238.7,181.8L239,183.4L239.3,183.9L239.6,183.8L239.9,183.1L240.2,183.4L240.5,184.8L240.8,183.1L241.1,182.3L241.4,184.4L241.7,184.8L242,183.4L242.3,183.8L242.6,182.7L242.9,183.5L243.2,184.9L243.5,185.8L243.8,183.8L244.1,183.3L244.4,181.8L244.7,184L245,184.1L245.3,184.8L245.6,185.9L245.9,184L246.2,184.7L246.5,182.3L246.8,184.9L247.1,184.5L247.4,185.1L247.7,184.3L248,184L248.3,185.2L248.6,182.8L248.9,184.2L249.2,184.7L249.5,182.6L249.8,182.2L250.1,183.9L250.4,183L250.7,184.1L251,184.2L251.3,182.6L251.6,183.8L251.9,184.7L252.2,183L252.5,183.1L252.8,183.9L253.1,184.3L253.4,185.6L253.7,181.8L254,184.2L254.3,184.3L254.6,182.7L254.9,182.9L255.2,182.1L255.5,182.4L255.8,183.5L256.1,184L256.4,183.4L256.7,184.2L257,183.5L257.3,182.4L257.6,184.9L257.9,184.6L258.2,182.4L258.5,185.2L258.8,183.7L259.1,183.4L259.4,185.3L259.7,180.4L260,181.4L260.3,184L260.6,182.9L260.9,180.1L261.2,184.8L261.5,183.7L261.8,182.5L262.1,182.4L262.4,184.1L262.7,185.1L263,180.9L263.3,182L263.6,182.7L263.9,181.1L264.2,182.9L264.5,181.3L264.8,182.5L265.1,184.9L265.4,183.6L265.7,183.9L266,183.7L266.3,183.4L266.6,184.5L266.9,181.7L267.2,182.6L267.5,185.8L267.8,182.2L268.1,182.5L268.4,187.4L268.7,184.7L269,182.3L269.3,182L269.6,183.6L269.9,183.2L270.2,182.2L270.5,184.7L270.8,183.5L271.1,183L271.4,186.2L271.7,184.4L272,183.8L272.3,184L272.6,186.2L272.9,184.1L273.2,182.1L273.5,183.2L273.8,182.9L274.1,182.2L274.4,183.1L274.7,183.1L275,182.8L275.3,182.3L275.6,183.7L275.9,181L276.2,183.7L276.5,182.8L276.8,183.1L277.1,180.1L277.4,184.6L277.7,181.3L278,181.8L278.3,183.5L278.6,182L278.9,182.3L279.2,180.2L279.5,182.2L279.8,182.9L280.1,183.5L280.4,182.4L280.7,182.9L281,183.2L281.3,181.9L281.6,181.8L281.9,184.9L282.2,181.7L282.5,184L282.8,182.7L283.1,184.3L283.4,181.9L283.7,183.2L284,183L284.3,182.3L284.6,182.9L284.9,181.7L285.2,182.5L285.5,183.3L285.8,183.4L286.1,182.4L286.4,181L286.7,182.1L287,182.4L287.3,181.5L287.6,184L287.9,183L288.2,183.4L288.5,178L288.8,181.5L289.1,183.6L289.4,180.8L289.7,182.9L290,182.5L290.3,181.9L290.6,182.5L290.9,181.2L291.2,182.7L291.5,181.5L291.8,180.9L292.1,184L292.4,181.6L292.7,180L293,183.5L293.3,181.5L293.6,178.4L293.9,182.3L294.2,183.4L294.5,182.7L294.8,184.2L295.1,182.2L295.4,183L295.7,181.1L296,182.5L296.3,184L296.6,183.6L296.9,182.4L297.2,180L297.5,181.8L297.8,180.8L298.1,183.1L298.4,181.4L298.7,182.6L299,181.1L299.3,184.3L299.6,180.8L299.9,182.3L300.2,184.1L300.5,182.4L300.8,181.1L301.1,182.8L301.4,183.2L301.7,183.1L302,179.9L302.3,182.3L302.6,179.7L302.9,184.2L303.2,182.1L303.5,181.5L303.8,182.8L304.1,182.6L304.4,180.7L304.7,183.9L305,181.7L305.3,180L305.6,183.6L305.9,183.7L306.2,183.4L306.5,182.6L306.8,180.9L307.1,183L307.4,184L307.7,184.1L308,183.7L308.3,182.7L308.6,183L308.9,182.9L309.2,180.2L309.5,180L309.8,181L310.1,181.9L310.4,182.3L310.7,181.6L311,181.7L311.3,181.8L311.6,181.9L311.9,182.5L312.2,182.3L312.5,181.7L312.8,182.1L313.1,181.2L313.4,182.6L313.7,181.2L314,183.6L314.3,181.7L314.6,182L314.9,180.8L315.2,181.3L315.5,181.6L315.8,181.7L316.1,180.9L316.4,180.3L316.7,181.7L317,181.8L317.3,182.2L317.6,183L317.9,181.2L318.2,179.3L318.5,181.4L318.8,179.5L319.1,180.1L319.4,182.7L319.7,182.2L320,180.8L320.3,180.8L320.6,180.9L320.9,179.5L321.2,182L321.5,181.1L321.8,183.6L322.1,180.2L322.4,182.6L322.7,180.7L323,182.6L323.3,180.6L323.6,182.2L323.9,180.9L324.2,180.4L324.5,181.2L324.8,181.9L325.1,181.8L325.4,184.9L325.7,182.3L326,178.3L326.3,183.1L326.6,178.4L326.9,180.9L327.2,182L327.5,179.7L327.8,179.9L328.1,181.4L328.4,180.9L328.7,183L329,181.6L329.3,180.5L329.6,183.2L329.9,180.6L330.2,181.2L330.5,180L330.8,181.5L331.1,182.3L331.4,182.7L331.7,181.1L332,180.3L332.3,180.2L332.6,179.5L332.9,181.2L333.2,182.6L333.5,178.4L333.8,178.6L334.1,182.7L334.4,179.2L334.7,181.4L335,179.6L335.3,180.8L335.6,181.9L335.9,181.2L336.2,181.9L336.5,181L336.8,181.6L337.1,184.5L337.4,182.2L337.7,180.2L338,180L338.3,180.6L338.6,180.6L338.9,181L339.2,180.2L339.5,182L339.8,180.9L340.1,181.3L340.4,180.8L340.7,181.5L341,179.4L341.3,182.6L341.6,181.2L341.9,181.3L342.2,181.5L342.5,182.5L342.8,181.6L343.1,181L343.4,180.5L343.7,178.8L344,181L344.3,180.3L344.6,180.3L344.9,183.4L345.2,178.5L345.5,180.7L345.8,182L346.1,182.5L346.4,182.1L346.7,179.2L347,179.5L347.3,181.3L347.6,180.2L347.9,182.5L348.2,180.8L348.5,181.4L348.8,181L349.1,180.2L349.4,180.5L349.7,179.7L350,180.5L350.3,179.9L350.6,180.8L350.9,178.8L351.2,178.7L351.5,181L351.8,180.7L352.1,179.3L352.4,180.2L352.7,179.2L353,182.7L353.3,178.6L353.6,182.3L353.9,179.4L354.2,180.8L354.5,180L354.8,179.9L355.1,181.4L355.4,179.8L355.7,180L356,179.2L356.3,182.7L356.6,181.9L356.9,180.4L357.2,179.9L357.5,180.6L357.8,180.3L358.1,181.6L358.4,179.1L358.7,180.2L359,179.3L359.3,181.7L359.6,182.2L359.9,180L360.2,180.7L360.5,181.7L360.8,179.8L361.1,179L361.4,181.3L361.7,180.7L362,179.8L362.3,181.7L362.6,180.3L362.9,178L363.2,180.4L363.5,179.9L363.8,182.2L364.1,180L364.4,179.7L364.7,180.5L365,180.2L365.3,178.3L365.6,180.1L365.9,179.5L366.2,181.5L366.5,182.6L366.8,178.6L367.1,178.7L367.4,178.9L367.7,179.1L368,179L368.3,179.9L368.6,181.1L368.9,178.3L369.2,178L369.5,177.6L369.8,180.2L370.1,181.3L370.4,178L370.7,177.8L371,180.1L371.3,181L371.6,180.9L371.9,179.9L372.2,180.4L372.5,180.6L372.8,179L373.1,181.8L373.4,179.6L373.7,178.3L374,179.1L374.3,177.8L374.6,179.6L374.9,180.8L375.2,178.1L375.5,180.8L375.8,181.9" stroke="#9400d3" stroke-width="0.8"/>
</g>
<path d="M67.50,239.0v-6.6M67.50,5.9v6.6M89.43,239.0v-3.5M89.43,5.9v3.5M111.37,239.0v-3.5M111.37,5.9v3.5M133.30,239.0v-3.5M133.30,5.9v3.5M155.23,239.0v-3.5M155.23,5.9v3.5M177.17,239.0v-6.6M177.17,5.9v6.6M199.10,239.0v-3.5M199.10,5.9v3.5M221.03,239.0v-3.5M221.03,5.9v3.5M242.97,239.0v-3.5M242.97,5.9v3.5M264.90,239.0v-3.5M264.90,5.9v3.5M286.83,239.0v-6.6M286.83,5.9v6.6M308.77,239.0v-3.5M308.77,5.9v3.5M330.70,239.0v-3.5M330.70,5.9v3.5M352.63,239.0v-3.5M352.63,5.9v3.5M374.57,239.0v-3.5M374.57,5.9v3.5M396.50,239.0v-6.6M396.50,5.9v6.6M67.5,239.00h6.6M396.5,239.00h-6.6M67.5,215.69h3.5M396.5,215.69h-3.5M67.5,192.38h6.6M396.5,192.38h-6.6M67.5,169.07h3.5M396.5,169.07h-3.5M67.5,145.76h6.6M396.5,145.76h-6.6M67.5,122.45h3.5M396.5,122.45h-3.5M67.5,99.14h6.6M396.5,99.14h-6.6M67.5,75.83h3.5M396.5,75.83h-3.5M67.5,52.52h6.6M396.5,52.52h-6.6M67.5,29.21h3.5M396.5,29.21h-3.5M67.5,5.90h6.6M396.5,5.90h-6.6" stroke="#000" stroke-width="0.9" fill="none"/>
<rect x="67.5" y="5.9" width="329.0" height="233.1" fill="none" stroke="#000" stroke-width="0.85"/>
<g font-size="13.8">
<text x="64.9" y="244.3" text-anchor="end">0.0e+00</text><text x="64.9" y="197.7" text-anchor="end">2.0e-05</text><text x="64.9" y="151.1" text-anchor="end">4.0e-05</text><text x="64.9" y="104.4" text-anchor="end">6.0e-05</text><text x="64.9" y="57.8" text-anchor="end">8.0e-05</text><text x="64.9" y="11.2" text-anchor="end">1.0e-04</text>
<text x="67.5" y="252.3" text-anchor="middle">0</text><text x="177.2" y="252.3" text-anchor="middle">500</text><text x="286.8" y="252.3" text-anchor="middle">1000</text><text x="396.5" y="252.3" text-anchor="middle">1500</text>
</g>
<text x="232.3" y="264.8" text-anchor="middle" font-size="14">t/M</text>
<text transform="translate(10.6,122.0) rotate(-90)" text-anchor="middle" font-size="14.05">Horizon Mass (M<tspan font-size="9.8" dy="3.5">H</tspan><tspan dy="-3.5">/M-0.5)</tspan></text>
<g>
<rect x="253.5" y="12.6" width="125.0" height="113.3" fill="#fff" stroke="#000" stroke-width="0.85"/><path d="M257.3,22.1H280.6" stroke="#000" stroke-width="2" fill="none"/><path d="M257.3,40.8H280.6" stroke="#000" stroke-width="2" stroke-dasharray="8 4.1" fill="none"/><path d="M257.3,61.4H280.6" stroke="#000" stroke-width="2" stroke-dasharray="2 4 8 4.1" fill="none"/><path d="M257.3,79.7H280.6" stroke="#f00" stroke-width="2" fill="none"/><path d="M257.3,98.0H280.6" stroke="#f00" stroke-width="2" stroke-dasharray="8 4.1" fill="none"/><path d="M257.3,116.3H280.6" stroke="#9400d3" stroke-width="2" fill="none"/><text x="287.7" y="24.1" font-size="11.6">h<tspan font-size="7.8" font-style="italic" dy="3.7" dx="0">0</tspan><tspan dy="-3.7" dx="-0.2">/1.2</tspan></text><text x="287.7" y="44.7" font-size="11.6">h<tspan font-size="7.8" font-style="italic" dy="3.7" dx="0">0</tspan><tspan dy="-3.7" dx="-0.2">/1.2</tspan><tspan font-size="7.9" dy="-6.5" dx="1.2">2</tspan></text><text x="287.7" y="65.3" font-size="11.6">h<tspan font-size="7.8" font-style="italic" dy="3.7" dx="0">0</tspan><tspan dy="-3.7" dx="-0.2">/1.2</tspan><tspan font-size="7.9" dy="-6.5" dx="1.2">3</tspan></text><text x="287.7" y="81.8" font-size="11.6">h<tspan font-size="7.8" font-style="italic" dy="3.7" dx="0">0</tspan><tspan dy="-3.7" dx="-0.2">/1.2 D7</tspan></text><text x="287.7" y="102.2" font-size="11.6">h<tspan font-size="7.8" font-style="italic" dy="3.7" dx="0">0</tspan><tspan dy="-3.7" dx="-0.2">/1.2</tspan><tspan font-size="7.9" dy="-6.5" dx="1.2">2</tspan><tspan dy="6.5" dx="-0.5"> D7</tspan></text><text x="287.7" y="118.4" font-size="11.6">h<tspan font-size="7.8" font-style="italic" dy="3.7" dx="0">0</tspan><tspan dy="-3.7" dx="-0.2">/1.2 <tspan letter-spacing="0.21">BowenYork</tspan></tspan></text>
</g>
</svg>
</body>
</html>
